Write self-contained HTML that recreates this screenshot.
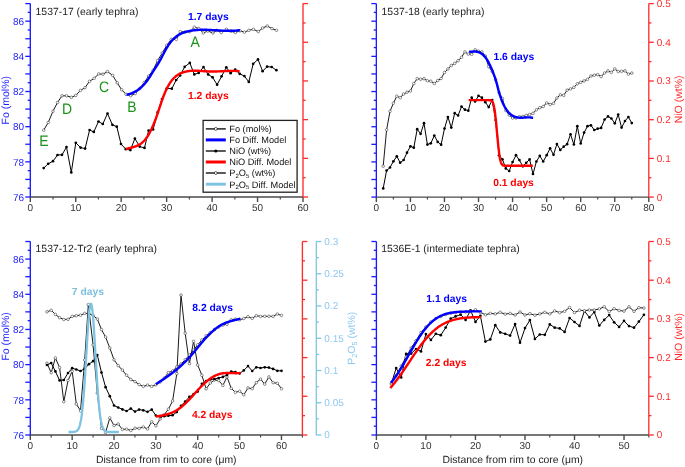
<!DOCTYPE html>
<html><head><meta charset="utf-8"><style>
html,body{margin:0;padding:0;background:#fff;}
svg{display:block;font-family:"Liberation Sans", sans-serif;will-change:transform;text-rendering:geometricPrecision;}
</style></head><body>
<svg width="685" height="467" viewBox="0 0 685 467">
<line x1="30.3" y1="197.0" x2="303.0" y2="197.0" stroke="#4a4a4a" stroke-width="1.4"/>
<line x1="30.30" y1="197.0" x2="30.30" y2="202.0" stroke="#4a4a4a" stroke-width="1.4"/>
<text transform="translate(30.30,211.0) scale(1.0,1)" text-anchor="middle" fill="#333" font-size="10">0</text>
<line x1="53.03" y1="197.0" x2="53.03" y2="199.5" stroke="#4a4a4a" stroke-width="1.2"/>
<line x1="75.75" y1="197.0" x2="75.75" y2="202.0" stroke="#4a4a4a" stroke-width="1.4"/>
<text transform="translate(75.75,211.0) scale(1.0,1)" text-anchor="middle" fill="#333" font-size="10">10</text>
<line x1="98.47" y1="197.0" x2="98.47" y2="199.5" stroke="#4a4a4a" stroke-width="1.2"/>
<line x1="121.20" y1="197.0" x2="121.20" y2="202.0" stroke="#4a4a4a" stroke-width="1.4"/>
<text transform="translate(121.20,211.0) scale(1.0,1)" text-anchor="middle" fill="#333" font-size="10">20</text>
<line x1="143.93" y1="197.0" x2="143.93" y2="199.5" stroke="#4a4a4a" stroke-width="1.2"/>
<line x1="166.65" y1="197.0" x2="166.65" y2="202.0" stroke="#4a4a4a" stroke-width="1.4"/>
<text transform="translate(166.65,211.0) scale(1.0,1)" text-anchor="middle" fill="#333" font-size="10">30</text>
<line x1="189.38" y1="197.0" x2="189.38" y2="199.5" stroke="#4a4a4a" stroke-width="1.2"/>
<line x1="212.10" y1="197.0" x2="212.10" y2="202.0" stroke="#4a4a4a" stroke-width="1.4"/>
<text transform="translate(212.10,211.0) scale(1.0,1)" text-anchor="middle" fill="#333" font-size="10">40</text>
<line x1="234.83" y1="197.0" x2="234.83" y2="199.5" stroke="#4a4a4a" stroke-width="1.2"/>
<line x1="257.55" y1="197.0" x2="257.55" y2="202.0" stroke="#4a4a4a" stroke-width="1.4"/>
<text transform="translate(257.55,211.0) scale(1.0,1)" text-anchor="middle" fill="#333" font-size="10">50</text>
<line x1="280.27" y1="197.0" x2="280.27" y2="199.5" stroke="#4a4a4a" stroke-width="1.2"/>
<line x1="303.00" y1="197.0" x2="303.00" y2="202.0" stroke="#4a4a4a" stroke-width="1.4"/>
<text transform="translate(303.00,211.0) scale(1.0,1)" text-anchor="middle" fill="#333" font-size="10">60</text>
<line x1="30.3" y1="3.6" x2="30.3" y2="197.0" stroke="#1a1aff" stroke-width="1.35"/>
<line x1="30.3" y1="197.00" x2="25.3" y2="197.00" stroke="#1a1aff" stroke-width="1.3"/>
<text transform="translate(24.00,200.75) scale(1.0,1)" text-anchor="end" fill="#1a1aff" font-size="10">76</text>
<line x1="30.3" y1="188.21" x2="27.7" y2="188.21" stroke="#1a1aff" stroke-width="1.3"/>
<line x1="30.3" y1="179.42" x2="25.3" y2="179.42" stroke="#1a1aff" stroke-width="1.3"/>
<line x1="30.3" y1="170.63" x2="27.7" y2="170.63" stroke="#1a1aff" stroke-width="1.3"/>
<line x1="30.3" y1="161.84" x2="25.3" y2="161.84" stroke="#1a1aff" stroke-width="1.3"/>
<text transform="translate(24.00,165.59) scale(1.0,1)" text-anchor="end" fill="#1a1aff" font-size="10">78</text>
<line x1="30.3" y1="153.05" x2="27.7" y2="153.05" stroke="#1a1aff" stroke-width="1.3"/>
<line x1="30.3" y1="144.25" x2="25.3" y2="144.25" stroke="#1a1aff" stroke-width="1.3"/>
<line x1="30.3" y1="135.46" x2="27.7" y2="135.46" stroke="#1a1aff" stroke-width="1.3"/>
<line x1="30.3" y1="126.67" x2="25.3" y2="126.67" stroke="#1a1aff" stroke-width="1.3"/>
<text transform="translate(24.00,130.42) scale(1.0,1)" text-anchor="end" fill="#1a1aff" font-size="10">80</text>
<line x1="30.3" y1="117.88" x2="27.7" y2="117.88" stroke="#1a1aff" stroke-width="1.3"/>
<line x1="30.3" y1="109.09" x2="25.3" y2="109.09" stroke="#1a1aff" stroke-width="1.3"/>
<line x1="30.3" y1="100.30" x2="27.7" y2="100.30" stroke="#1a1aff" stroke-width="1.3"/>
<line x1="30.3" y1="91.51" x2="25.3" y2="91.51" stroke="#1a1aff" stroke-width="1.3"/>
<text transform="translate(24.00,95.26) scale(1.0,1)" text-anchor="end" fill="#1a1aff" font-size="10">82</text>
<line x1="30.3" y1="82.72" x2="27.7" y2="82.72" stroke="#1a1aff" stroke-width="1.3"/>
<line x1="30.3" y1="73.93" x2="25.3" y2="73.93" stroke="#1a1aff" stroke-width="1.3"/>
<line x1="30.3" y1="65.14" x2="27.7" y2="65.14" stroke="#1a1aff" stroke-width="1.3"/>
<line x1="30.3" y1="56.35" x2="25.3" y2="56.35" stroke="#1a1aff" stroke-width="1.3"/>
<text transform="translate(24.00,60.10) scale(1.0,1)" text-anchor="end" fill="#1a1aff" font-size="10">84</text>
<line x1="30.3" y1="47.55" x2="27.7" y2="47.55" stroke="#1a1aff" stroke-width="1.3"/>
<line x1="30.3" y1="38.76" x2="25.3" y2="38.76" stroke="#1a1aff" stroke-width="1.3"/>
<line x1="30.3" y1="29.97" x2="27.7" y2="29.97" stroke="#1a1aff" stroke-width="1.3"/>
<line x1="30.3" y1="21.18" x2="25.3" y2="21.18" stroke="#1a1aff" stroke-width="1.3"/>
<text transform="translate(24.00,24.93) scale(1.0,1)" text-anchor="end" fill="#1a1aff" font-size="10">86</text>
<line x1="30.3" y1="12.39" x2="27.7" y2="12.39" stroke="#1a1aff" stroke-width="1.3"/>
<line x1="30.3" y1="3.60" x2="25.3" y2="3.60" stroke="#1a1aff" stroke-width="1.3"/>
<line x1="303.0" y1="3.6" x2="303.0" y2="197.0" stroke="#ff2a2a" stroke-width="1.35"/>
<line x1="303.0" y1="197.00" x2="308.0" y2="197.00" stroke="#ff2a2a" stroke-width="1.3"/>
<line x1="303.0" y1="177.66" x2="305.6" y2="177.66" stroke="#ff2a2a" stroke-width="1.3"/>
<line x1="303.0" y1="158.32" x2="308.0" y2="158.32" stroke="#ff2a2a" stroke-width="1.3"/>
<line x1="303.0" y1="138.98" x2="305.6" y2="138.98" stroke="#ff2a2a" stroke-width="1.3"/>
<line x1="303.0" y1="119.64" x2="308.0" y2="119.64" stroke="#ff2a2a" stroke-width="1.3"/>
<line x1="303.0" y1="100.30" x2="305.6" y2="100.30" stroke="#ff2a2a" stroke-width="1.3"/>
<line x1="303.0" y1="80.96" x2="308.0" y2="80.96" stroke="#ff2a2a" stroke-width="1.3"/>
<line x1="303.0" y1="61.62" x2="305.6" y2="61.62" stroke="#ff2a2a" stroke-width="1.3"/>
<line x1="303.0" y1="42.28" x2="308.0" y2="42.28" stroke="#ff2a2a" stroke-width="1.3"/>
<line x1="303.0" y1="22.94" x2="305.6" y2="22.94" stroke="#ff2a2a" stroke-width="1.3"/>
<line x1="303.0" y1="3.60" x2="308.0" y2="3.60" stroke="#ff2a2a" stroke-width="1.3"/>
<line x1="376.35" y1="197.1" x2="648.8" y2="197.1" stroke="#4a4a4a" stroke-width="1.4"/>
<line x1="376.35" y1="197.1" x2="376.35" y2="202.1" stroke="#4a4a4a" stroke-width="1.4"/>
<text transform="translate(376.35,211.1) scale(1.0,1)" text-anchor="middle" fill="#333" font-size="10">0</text>
<line x1="393.38" y1="197.1" x2="393.38" y2="199.6" stroke="#4a4a4a" stroke-width="1.2"/>
<line x1="410.41" y1="197.1" x2="410.41" y2="202.1" stroke="#4a4a4a" stroke-width="1.4"/>
<text transform="translate(410.41,211.1) scale(1.0,1)" text-anchor="middle" fill="#333" font-size="10">10</text>
<line x1="427.43" y1="197.1" x2="427.43" y2="199.6" stroke="#4a4a4a" stroke-width="1.2"/>
<line x1="444.46" y1="197.1" x2="444.46" y2="202.1" stroke="#4a4a4a" stroke-width="1.4"/>
<text transform="translate(444.46,211.1) scale(1.0,1)" text-anchor="middle" fill="#333" font-size="10">20</text>
<line x1="461.49" y1="197.1" x2="461.49" y2="199.6" stroke="#4a4a4a" stroke-width="1.2"/>
<line x1="478.52" y1="197.1" x2="478.52" y2="202.1" stroke="#4a4a4a" stroke-width="1.4"/>
<text transform="translate(478.52,211.1) scale(1.0,1)" text-anchor="middle" fill="#333" font-size="10">30</text>
<line x1="495.55" y1="197.1" x2="495.55" y2="199.6" stroke="#4a4a4a" stroke-width="1.2"/>
<line x1="512.58" y1="197.1" x2="512.58" y2="202.1" stroke="#4a4a4a" stroke-width="1.4"/>
<text transform="translate(512.58,211.1) scale(1.0,1)" text-anchor="middle" fill="#333" font-size="10">40</text>
<line x1="529.60" y1="197.1" x2="529.60" y2="199.6" stroke="#4a4a4a" stroke-width="1.2"/>
<line x1="546.63" y1="197.1" x2="546.63" y2="202.1" stroke="#4a4a4a" stroke-width="1.4"/>
<text transform="translate(546.63,211.1) scale(1.0,1)" text-anchor="middle" fill="#333" font-size="10">50</text>
<line x1="563.66" y1="197.1" x2="563.66" y2="199.6" stroke="#4a4a4a" stroke-width="1.2"/>
<line x1="580.69" y1="197.1" x2="580.69" y2="202.1" stroke="#4a4a4a" stroke-width="1.4"/>
<text transform="translate(580.69,211.1) scale(1.0,1)" text-anchor="middle" fill="#333" font-size="10">60</text>
<line x1="597.72" y1="197.1" x2="597.72" y2="199.6" stroke="#4a4a4a" stroke-width="1.2"/>
<line x1="614.74" y1="197.1" x2="614.74" y2="202.1" stroke="#4a4a4a" stroke-width="1.4"/>
<text transform="translate(614.74,211.1) scale(1.0,1)" text-anchor="middle" fill="#333" font-size="10">70</text>
<line x1="631.77" y1="197.1" x2="631.77" y2="199.6" stroke="#4a4a4a" stroke-width="1.2"/>
<line x1="648.80" y1="197.1" x2="648.80" y2="202.1" stroke="#4a4a4a" stroke-width="1.4"/>
<text transform="translate(648.80,211.1) scale(1.0,1)" text-anchor="middle" fill="#333" font-size="10">80</text>
<line x1="376.35" y1="3.6" x2="376.35" y2="197.1" stroke="#1a1aff" stroke-width="1.35"/>
<line x1="376.35" y1="197.10" x2="371.35" y2="197.10" stroke="#1a1aff" stroke-width="1.3"/>
<line x1="376.35" y1="188.30" x2="373.75" y2="188.30" stroke="#1a1aff" stroke-width="1.3"/>
<line x1="376.35" y1="179.51" x2="371.35" y2="179.51" stroke="#1a1aff" stroke-width="1.3"/>
<line x1="376.35" y1="170.71" x2="373.75" y2="170.71" stroke="#1a1aff" stroke-width="1.3"/>
<line x1="376.35" y1="161.92" x2="371.35" y2="161.92" stroke="#1a1aff" stroke-width="1.3"/>
<line x1="376.35" y1="153.12" x2="373.75" y2="153.12" stroke="#1a1aff" stroke-width="1.3"/>
<line x1="376.35" y1="144.33" x2="371.35" y2="144.33" stroke="#1a1aff" stroke-width="1.3"/>
<line x1="376.35" y1="135.53" x2="373.75" y2="135.53" stroke="#1a1aff" stroke-width="1.3"/>
<line x1="376.35" y1="126.74" x2="371.35" y2="126.74" stroke="#1a1aff" stroke-width="1.3"/>
<line x1="376.35" y1="117.94" x2="373.75" y2="117.94" stroke="#1a1aff" stroke-width="1.3"/>
<line x1="376.35" y1="109.15" x2="371.35" y2="109.15" stroke="#1a1aff" stroke-width="1.3"/>
<line x1="376.35" y1="100.35" x2="373.75" y2="100.35" stroke="#1a1aff" stroke-width="1.3"/>
<line x1="376.35" y1="91.55" x2="371.35" y2="91.55" stroke="#1a1aff" stroke-width="1.3"/>
<line x1="376.35" y1="82.76" x2="373.75" y2="82.76" stroke="#1a1aff" stroke-width="1.3"/>
<line x1="376.35" y1="73.96" x2="371.35" y2="73.96" stroke="#1a1aff" stroke-width="1.3"/>
<line x1="376.35" y1="65.17" x2="373.75" y2="65.17" stroke="#1a1aff" stroke-width="1.3"/>
<line x1="376.35" y1="56.37" x2="371.35" y2="56.37" stroke="#1a1aff" stroke-width="1.3"/>
<line x1="376.35" y1="47.58" x2="373.75" y2="47.58" stroke="#1a1aff" stroke-width="1.3"/>
<line x1="376.35" y1="38.78" x2="371.35" y2="38.78" stroke="#1a1aff" stroke-width="1.3"/>
<line x1="376.35" y1="29.99" x2="373.75" y2="29.99" stroke="#1a1aff" stroke-width="1.3"/>
<line x1="376.35" y1="21.19" x2="371.35" y2="21.19" stroke="#1a1aff" stroke-width="1.3"/>
<line x1="376.35" y1="12.40" x2="373.75" y2="12.40" stroke="#1a1aff" stroke-width="1.3"/>
<line x1="376.35" y1="3.60" x2="371.35" y2="3.60" stroke="#1a1aff" stroke-width="1.3"/>
<line x1="648.8" y1="3.6" x2="648.8" y2="197.1" stroke="#ff2a2a" stroke-width="1.3"/>
<line x1="648.8" y1="197.10" x2="653.8" y2="197.10" stroke="#ff2a2a" stroke-width="1.3"/>
<text transform="translate(656.80,200.55) scale(1.0,1)" text-anchor="start" fill="#ff2a2a" font-size="10">0</text>
<line x1="648.8" y1="177.75" x2="651.4" y2="177.75" stroke="#ff2a2a" stroke-width="1.3"/>
<line x1="648.8" y1="158.40" x2="653.8" y2="158.40" stroke="#ff2a2a" stroke-width="1.3"/>
<text transform="translate(656.80,161.85) scale(1.0,1)" text-anchor="start" fill="#ff2a2a" font-size="10">0.1</text>
<line x1="648.8" y1="139.05" x2="651.4" y2="139.05" stroke="#ff2a2a" stroke-width="1.3"/>
<line x1="648.8" y1="119.70" x2="653.8" y2="119.70" stroke="#ff2a2a" stroke-width="1.3"/>
<text transform="translate(656.80,123.15) scale(1.0,1)" text-anchor="start" fill="#ff2a2a" font-size="10">0.2</text>
<line x1="648.8" y1="100.35" x2="651.4" y2="100.35" stroke="#ff2a2a" stroke-width="1.3"/>
<line x1="648.8" y1="81.00" x2="653.8" y2="81.00" stroke="#ff2a2a" stroke-width="1.3"/>
<text transform="translate(656.80,84.45) scale(1.0,1)" text-anchor="start" fill="#ff2a2a" font-size="10">0.3</text>
<line x1="648.8" y1="61.65" x2="651.4" y2="61.65" stroke="#ff2a2a" stroke-width="1.3"/>
<line x1="648.8" y1="42.30" x2="653.8" y2="42.30" stroke="#ff2a2a" stroke-width="1.3"/>
<text transform="translate(656.80,45.75) scale(1.0,1)" text-anchor="start" fill="#ff2a2a" font-size="10">0.4</text>
<line x1="648.8" y1="22.95" x2="651.4" y2="22.95" stroke="#ff2a2a" stroke-width="1.3"/>
<line x1="648.8" y1="3.60" x2="653.8" y2="3.60" stroke="#ff2a2a" stroke-width="1.3"/>
<text transform="translate(656.80,7.05) scale(1.0,1)" text-anchor="start" fill="#ff2a2a" font-size="10">0.5</text>
<line x1="30.3" y1="435.0" x2="302.4" y2="435.0" stroke="#4a4a4a" stroke-width="1.4"/>
<line x1="30.30" y1="435.0" x2="30.30" y2="440.0" stroke="#4a4a4a" stroke-width="1.4"/>
<text transform="translate(30.30,449.0) scale(1.0,1)" text-anchor="middle" fill="#333" font-size="10">0</text>
<line x1="51.23" y1="435.0" x2="51.23" y2="437.5" stroke="#4a4a4a" stroke-width="1.2"/>
<line x1="72.16" y1="435.0" x2="72.16" y2="440.0" stroke="#4a4a4a" stroke-width="1.4"/>
<text transform="translate(72.16,449.0) scale(1.0,1)" text-anchor="middle" fill="#333" font-size="10">10</text>
<line x1="93.09" y1="435.0" x2="93.09" y2="437.5" stroke="#4a4a4a" stroke-width="1.2"/>
<line x1="114.02" y1="435.0" x2="114.02" y2="440.0" stroke="#4a4a4a" stroke-width="1.4"/>
<text transform="translate(114.02,449.0) scale(1.0,1)" text-anchor="middle" fill="#333" font-size="10">20</text>
<line x1="134.95" y1="435.0" x2="134.95" y2="437.5" stroke="#4a4a4a" stroke-width="1.2"/>
<line x1="155.88" y1="435.0" x2="155.88" y2="440.0" stroke="#4a4a4a" stroke-width="1.4"/>
<text transform="translate(155.88,449.0) scale(1.0,1)" text-anchor="middle" fill="#333" font-size="10">30</text>
<line x1="176.82" y1="435.0" x2="176.82" y2="437.5" stroke="#4a4a4a" stroke-width="1.2"/>
<line x1="197.75" y1="435.0" x2="197.75" y2="440.0" stroke="#4a4a4a" stroke-width="1.4"/>
<text transform="translate(197.75,449.0) scale(1.0,1)" text-anchor="middle" fill="#333" font-size="10">40</text>
<line x1="218.68" y1="435.0" x2="218.68" y2="437.5" stroke="#4a4a4a" stroke-width="1.2"/>
<line x1="239.61" y1="435.0" x2="239.61" y2="440.0" stroke="#4a4a4a" stroke-width="1.4"/>
<text transform="translate(239.61,449.0) scale(1.0,1)" text-anchor="middle" fill="#333" font-size="10">50</text>
<line x1="260.54" y1="435.0" x2="260.54" y2="437.5" stroke="#4a4a4a" stroke-width="1.2"/>
<line x1="281.47" y1="435.0" x2="281.47" y2="440.0" stroke="#4a4a4a" stroke-width="1.4"/>
<text transform="translate(281.47,449.0) scale(1.0,1)" text-anchor="middle" fill="#333" font-size="10">60</text>
<line x1="302.40" y1="435.0" x2="302.40" y2="437.5" stroke="#4a4a4a" stroke-width="1.2"/>
<line x1="30.3" y1="241.5" x2="30.3" y2="435.0" stroke="#1a1aff" stroke-width="1.35"/>
<line x1="30.3" y1="435.00" x2="25.3" y2="435.00" stroke="#1a1aff" stroke-width="1.3"/>
<text transform="translate(24.00,438.75) scale(1.0,1)" text-anchor="end" fill="#1a1aff" font-size="10">76</text>
<line x1="30.3" y1="426.20" x2="27.7" y2="426.20" stroke="#1a1aff" stroke-width="1.3"/>
<line x1="30.3" y1="417.41" x2="25.3" y2="417.41" stroke="#1a1aff" stroke-width="1.3"/>
<line x1="30.3" y1="408.61" x2="27.7" y2="408.61" stroke="#1a1aff" stroke-width="1.3"/>
<line x1="30.3" y1="399.82" x2="25.3" y2="399.82" stroke="#1a1aff" stroke-width="1.3"/>
<text transform="translate(24.00,403.57) scale(1.0,1)" text-anchor="end" fill="#1a1aff" font-size="10">78</text>
<line x1="30.3" y1="391.02" x2="27.7" y2="391.02" stroke="#1a1aff" stroke-width="1.3"/>
<line x1="30.3" y1="382.23" x2="25.3" y2="382.23" stroke="#1a1aff" stroke-width="1.3"/>
<line x1="30.3" y1="373.43" x2="27.7" y2="373.43" stroke="#1a1aff" stroke-width="1.3"/>
<line x1="30.3" y1="364.64" x2="25.3" y2="364.64" stroke="#1a1aff" stroke-width="1.3"/>
<text transform="translate(24.00,368.39) scale(1.0,1)" text-anchor="end" fill="#1a1aff" font-size="10">80</text>
<line x1="30.3" y1="355.84" x2="27.7" y2="355.84" stroke="#1a1aff" stroke-width="1.3"/>
<line x1="30.3" y1="347.05" x2="25.3" y2="347.05" stroke="#1a1aff" stroke-width="1.3"/>
<line x1="30.3" y1="338.25" x2="27.7" y2="338.25" stroke="#1a1aff" stroke-width="1.3"/>
<line x1="30.3" y1="329.45" x2="25.3" y2="329.45" stroke="#1a1aff" stroke-width="1.3"/>
<text transform="translate(24.00,333.20) scale(1.0,1)" text-anchor="end" fill="#1a1aff" font-size="10">82</text>
<line x1="30.3" y1="320.66" x2="27.7" y2="320.66" stroke="#1a1aff" stroke-width="1.3"/>
<line x1="30.3" y1="311.86" x2="25.3" y2="311.86" stroke="#1a1aff" stroke-width="1.3"/>
<line x1="30.3" y1="303.07" x2="27.7" y2="303.07" stroke="#1a1aff" stroke-width="1.3"/>
<line x1="30.3" y1="294.27" x2="25.3" y2="294.27" stroke="#1a1aff" stroke-width="1.3"/>
<text transform="translate(24.00,298.02) scale(1.0,1)" text-anchor="end" fill="#1a1aff" font-size="10">84</text>
<line x1="30.3" y1="285.48" x2="27.7" y2="285.48" stroke="#1a1aff" stroke-width="1.3"/>
<line x1="30.3" y1="276.68" x2="25.3" y2="276.68" stroke="#1a1aff" stroke-width="1.3"/>
<line x1="30.3" y1="267.89" x2="27.7" y2="267.89" stroke="#1a1aff" stroke-width="1.3"/>
<line x1="30.3" y1="259.09" x2="25.3" y2="259.09" stroke="#1a1aff" stroke-width="1.3"/>
<text transform="translate(24.00,262.84) scale(1.0,1)" text-anchor="end" fill="#1a1aff" font-size="10">86</text>
<line x1="30.3" y1="250.30" x2="27.7" y2="250.30" stroke="#1a1aff" stroke-width="1.3"/>
<line x1="30.3" y1="241.50" x2="25.3" y2="241.50" stroke="#1a1aff" stroke-width="1.3"/>
<line x1="302.4" y1="241.5" x2="302.4" y2="435.0" stroke="#ff2a2a" stroke-width="1.35"/>
<line x1="302.4" y1="435.00" x2="307.4" y2="435.00" stroke="#ff2a2a" stroke-width="1.3"/>
<line x1="302.4" y1="415.65" x2="305.0" y2="415.65" stroke="#ff2a2a" stroke-width="1.3"/>
<line x1="302.4" y1="396.30" x2="307.4" y2="396.30" stroke="#ff2a2a" stroke-width="1.3"/>
<line x1="302.4" y1="376.95" x2="305.0" y2="376.95" stroke="#ff2a2a" stroke-width="1.3"/>
<line x1="302.4" y1="357.60" x2="307.4" y2="357.60" stroke="#ff2a2a" stroke-width="1.3"/>
<line x1="302.4" y1="338.25" x2="305.0" y2="338.25" stroke="#ff2a2a" stroke-width="1.3"/>
<line x1="302.4" y1="318.90" x2="307.4" y2="318.90" stroke="#ff2a2a" stroke-width="1.3"/>
<line x1="302.4" y1="299.55" x2="305.0" y2="299.55" stroke="#ff2a2a" stroke-width="1.3"/>
<line x1="302.4" y1="280.20" x2="307.4" y2="280.20" stroke="#ff2a2a" stroke-width="1.3"/>
<line x1="302.4" y1="260.85" x2="305.0" y2="260.85" stroke="#ff2a2a" stroke-width="1.3"/>
<line x1="302.4" y1="241.50" x2="307.4" y2="241.50" stroke="#ff2a2a" stroke-width="1.3"/>
<line x1="316.3" y1="241.5" x2="316.3" y2="435.0" stroke="#7ec4e2" stroke-width="1.3"/>
<line x1="316.3" y1="435.00" x2="321.3" y2="435.00" stroke="#7ec4e2" stroke-width="1.3"/>
<text transform="translate(324.30,438.45) scale(1.0,1)" text-anchor="start" fill="#8cc8f0" font-size="10">0</text>
<line x1="316.3" y1="418.88" x2="318.90000000000003" y2="418.88" stroke="#7ec4e2" stroke-width="1.3"/>
<line x1="316.3" y1="402.75" x2="321.3" y2="402.75" stroke="#7ec4e2" stroke-width="1.3"/>
<text transform="translate(324.30,406.20) scale(1.0,1)" text-anchor="start" fill="#8cc8f0" font-size="10">0.05</text>
<line x1="316.3" y1="386.62" x2="318.90000000000003" y2="386.62" stroke="#7ec4e2" stroke-width="1.3"/>
<line x1="316.3" y1="370.50" x2="321.3" y2="370.50" stroke="#7ec4e2" stroke-width="1.3"/>
<text transform="translate(324.30,373.95) scale(1.0,1)" text-anchor="start" fill="#8cc8f0" font-size="10">0.1</text>
<line x1="316.3" y1="354.38" x2="318.90000000000003" y2="354.38" stroke="#7ec4e2" stroke-width="1.3"/>
<line x1="316.3" y1="338.25" x2="321.3" y2="338.25" stroke="#7ec4e2" stroke-width="1.3"/>
<text transform="translate(324.30,341.70) scale(1.0,1)" text-anchor="start" fill="#8cc8f0" font-size="10">0.15</text>
<line x1="316.3" y1="322.12" x2="318.90000000000003" y2="322.12" stroke="#7ec4e2" stroke-width="1.3"/>
<line x1="316.3" y1="306.00" x2="321.3" y2="306.00" stroke="#7ec4e2" stroke-width="1.3"/>
<text transform="translate(324.30,309.45) scale(1.0,1)" text-anchor="start" fill="#8cc8f0" font-size="10">0.2</text>
<line x1="316.3" y1="289.88" x2="318.90000000000003" y2="289.88" stroke="#7ec4e2" stroke-width="1.3"/>
<line x1="316.3" y1="273.75" x2="321.3" y2="273.75" stroke="#7ec4e2" stroke-width="1.3"/>
<text transform="translate(324.30,277.20) scale(1.0,1)" text-anchor="start" fill="#8cc8f0" font-size="10">0.25</text>
<line x1="316.3" y1="257.62" x2="318.90000000000003" y2="257.62" stroke="#7ec4e2" stroke-width="1.3"/>
<line x1="316.3" y1="241.50" x2="321.3" y2="241.50" stroke="#7ec4e2" stroke-width="1.3"/>
<text transform="translate(324.30,244.95) scale(1.0,1)" text-anchor="start" fill="#8cc8f0" font-size="10">0.3</text>
<line x1="376.4" y1="435.0" x2="648.8" y2="435.0" stroke="#4a4a4a" stroke-width="1.4"/>
<line x1="376.40" y1="435.0" x2="376.40" y2="440.0" stroke="#4a4a4a" stroke-width="1.4"/>
<text transform="translate(376.40,449.0) scale(1.0,1)" text-anchor="middle" fill="#333" font-size="10">0</text>
<line x1="401.16" y1="435.0" x2="401.16" y2="437.5" stroke="#4a4a4a" stroke-width="1.2"/>
<line x1="425.93" y1="435.0" x2="425.93" y2="440.0" stroke="#4a4a4a" stroke-width="1.4"/>
<text transform="translate(425.93,449.0) scale(1.0,1)" text-anchor="middle" fill="#333" font-size="10">10</text>
<line x1="450.69" y1="435.0" x2="450.69" y2="437.5" stroke="#4a4a4a" stroke-width="1.2"/>
<line x1="475.45" y1="435.0" x2="475.45" y2="440.0" stroke="#4a4a4a" stroke-width="1.4"/>
<text transform="translate(475.45,449.0) scale(1.0,1)" text-anchor="middle" fill="#333" font-size="10">20</text>
<line x1="500.22" y1="435.0" x2="500.22" y2="437.5" stroke="#4a4a4a" stroke-width="1.2"/>
<line x1="524.98" y1="435.0" x2="524.98" y2="440.0" stroke="#4a4a4a" stroke-width="1.4"/>
<text transform="translate(524.98,449.0) scale(1.0,1)" text-anchor="middle" fill="#333" font-size="10">30</text>
<line x1="549.75" y1="435.0" x2="549.75" y2="437.5" stroke="#4a4a4a" stroke-width="1.2"/>
<line x1="574.51" y1="435.0" x2="574.51" y2="440.0" stroke="#4a4a4a" stroke-width="1.4"/>
<text transform="translate(574.51,449.0) scale(1.0,1)" text-anchor="middle" fill="#333" font-size="10">40</text>
<line x1="599.27" y1="435.0" x2="599.27" y2="437.5" stroke="#4a4a4a" stroke-width="1.2"/>
<line x1="624.04" y1="435.0" x2="624.04" y2="440.0" stroke="#4a4a4a" stroke-width="1.4"/>
<text transform="translate(624.04,449.0) scale(1.0,1)" text-anchor="middle" fill="#333" font-size="10">50</text>
<line x1="648.80" y1="435.0" x2="648.80" y2="437.5" stroke="#4a4a4a" stroke-width="1.2"/>
<line x1="376.4" y1="241.5" x2="376.4" y2="435.0" stroke="#1a1aff" stroke-width="1.35"/>
<line x1="376.4" y1="435.00" x2="371.4" y2="435.00" stroke="#1a1aff" stroke-width="1.3"/>
<line x1="376.4" y1="426.20" x2="373.79999999999995" y2="426.20" stroke="#1a1aff" stroke-width="1.3"/>
<line x1="376.4" y1="417.41" x2="371.4" y2="417.41" stroke="#1a1aff" stroke-width="1.3"/>
<line x1="376.4" y1="408.61" x2="373.79999999999995" y2="408.61" stroke="#1a1aff" stroke-width="1.3"/>
<line x1="376.4" y1="399.82" x2="371.4" y2="399.82" stroke="#1a1aff" stroke-width="1.3"/>
<line x1="376.4" y1="391.02" x2="373.79999999999995" y2="391.02" stroke="#1a1aff" stroke-width="1.3"/>
<line x1="376.4" y1="382.23" x2="371.4" y2="382.23" stroke="#1a1aff" stroke-width="1.3"/>
<line x1="376.4" y1="373.43" x2="373.79999999999995" y2="373.43" stroke="#1a1aff" stroke-width="1.3"/>
<line x1="376.4" y1="364.64" x2="371.4" y2="364.64" stroke="#1a1aff" stroke-width="1.3"/>
<line x1="376.4" y1="355.84" x2="373.79999999999995" y2="355.84" stroke="#1a1aff" stroke-width="1.3"/>
<line x1="376.4" y1="347.05" x2="371.4" y2="347.05" stroke="#1a1aff" stroke-width="1.3"/>
<line x1="376.4" y1="338.25" x2="373.79999999999995" y2="338.25" stroke="#1a1aff" stroke-width="1.3"/>
<line x1="376.4" y1="329.45" x2="371.4" y2="329.45" stroke="#1a1aff" stroke-width="1.3"/>
<line x1="376.4" y1="320.66" x2="373.79999999999995" y2="320.66" stroke="#1a1aff" stroke-width="1.3"/>
<line x1="376.4" y1="311.86" x2="371.4" y2="311.86" stroke="#1a1aff" stroke-width="1.3"/>
<line x1="376.4" y1="303.07" x2="373.79999999999995" y2="303.07" stroke="#1a1aff" stroke-width="1.3"/>
<line x1="376.4" y1="294.27" x2="371.4" y2="294.27" stroke="#1a1aff" stroke-width="1.3"/>
<line x1="376.4" y1="285.48" x2="373.79999999999995" y2="285.48" stroke="#1a1aff" stroke-width="1.3"/>
<line x1="376.4" y1="276.68" x2="371.4" y2="276.68" stroke="#1a1aff" stroke-width="1.3"/>
<line x1="376.4" y1="267.89" x2="373.79999999999995" y2="267.89" stroke="#1a1aff" stroke-width="1.3"/>
<line x1="376.4" y1="259.09" x2="371.4" y2="259.09" stroke="#1a1aff" stroke-width="1.3"/>
<line x1="376.4" y1="250.30" x2="373.79999999999995" y2="250.30" stroke="#1a1aff" stroke-width="1.3"/>
<line x1="376.4" y1="241.50" x2="371.4" y2="241.50" stroke="#1a1aff" stroke-width="1.3"/>
<line x1="648.8" y1="241.5" x2="648.8" y2="435.0" stroke="#ff2a2a" stroke-width="1.3"/>
<line x1="648.8" y1="435.00" x2="653.8" y2="435.00" stroke="#ff2a2a" stroke-width="1.3"/>
<text transform="translate(656.80,438.45) scale(1.0,1)" text-anchor="start" fill="#ff2a2a" font-size="10">0</text>
<line x1="648.8" y1="415.65" x2="651.4" y2="415.65" stroke="#ff2a2a" stroke-width="1.3"/>
<line x1="648.8" y1="396.30" x2="653.8" y2="396.30" stroke="#ff2a2a" stroke-width="1.3"/>
<text transform="translate(656.80,399.75) scale(1.0,1)" text-anchor="start" fill="#ff2a2a" font-size="10">0.1</text>
<line x1="648.8" y1="376.95" x2="651.4" y2="376.95" stroke="#ff2a2a" stroke-width="1.3"/>
<line x1="648.8" y1="357.60" x2="653.8" y2="357.60" stroke="#ff2a2a" stroke-width="1.3"/>
<text transform="translate(656.80,361.05) scale(1.0,1)" text-anchor="start" fill="#ff2a2a" font-size="10">0.2</text>
<line x1="648.8" y1="338.25" x2="651.4" y2="338.25" stroke="#ff2a2a" stroke-width="1.3"/>
<line x1="648.8" y1="318.90" x2="653.8" y2="318.90" stroke="#ff2a2a" stroke-width="1.3"/>
<text transform="translate(656.80,322.35) scale(1.0,1)" text-anchor="start" fill="#ff2a2a" font-size="10">0.3</text>
<line x1="648.8" y1="299.55" x2="651.4" y2="299.55" stroke="#ff2a2a" stroke-width="1.3"/>
<line x1="648.8" y1="280.20" x2="653.8" y2="280.20" stroke="#ff2a2a" stroke-width="1.3"/>
<text transform="translate(656.80,283.65) scale(1.0,1)" text-anchor="start" fill="#ff2a2a" font-size="10">0.4</text>
<line x1="648.8" y1="260.85" x2="651.4" y2="260.85" stroke="#ff2a2a" stroke-width="1.3"/>
<line x1="648.8" y1="241.50" x2="653.8" y2="241.50" stroke="#ff2a2a" stroke-width="1.3"/>
<text transform="translate(656.80,244.95) scale(1.0,1)" text-anchor="start" fill="#ff2a2a" font-size="10">0.5</text>
<text x="35.6" y="15.4" fill="#222" font-size="10.4">1537-17 (early tephra)</text>
<text x="381.6" y="15.4" fill="#222" font-size="10.4">1537-18 (early tephra)</text>
<text x="35.6" y="251.5" fill="#222" font-size="10.4">1537-12-Tr2 (early tephra)</text>
<text x="381.2" y="251.5" fill="#222" font-size="10.4">1536E-1 (intermediate tephra)</text>
<text transform="translate(8.8,100.2) rotate(-90)" text-anchor="middle" fill="#1a1aff" font-size="10.5">Fo (mol%)</text>
<text transform="translate(8.6,336.4) rotate(-90)" text-anchor="middle" fill="#1a1aff" font-size="10.5">Fo (mol%)</text>
<text transform="translate(682.2,99.4) rotate(-90)" text-anchor="middle" fill="#ff2a2a" font-size="10.5">NiO (wt%)</text>
<text transform="translate(682.2,336.9) rotate(-90)" text-anchor="middle" fill="#ff2a2a" font-size="10.5">NiO (wt%)</text>
<text transform="translate(355.3,338.3) rotate(-90)" text-anchor="middle" fill="#8cc8f0" font-size="10.5">P<tspan font-size="7.3" dy="2">2</tspan><tspan dy="-2">O</tspan><tspan font-size="7.3" dy="2">5</tspan><tspan dy="-2"> (wt%)</tspan></text>
<text x="166.3" y="462.8" text-anchor="middle" fill="#222" font-size="10.4">Distance from rim to core (μm)</text>
<text x="512.8" y="462.8" text-anchor="middle" fill="#222" font-size="10.4">Distance from rim to core (μm)</text>
<polyline points="43.7,168.1 48.2,163.8 53.0,161.2 57.5,155.0 62.0,154.8 66.5,147.1 71.3,172.4 75.8,142.8 80.6,147.6 85.1,148.6 89.6,130.0 93.8,131.9 98.5,121.5 102.8,124.0 107.5,113.5 112.4,124.8 116.8,126.7 121.0,144.0 125.8,149.2 130.4,150.1 134.9,138.5 139.7,146.6 144.5,147.9 148.6,130.5 153.1,129.5 157.7,112.2 162.0,99.0 166.8,88.3 171.8,88.7 176.2,80.0 180.1,75.5 184.7,66.8 189.8,62.9 194.3,74.4 198.7,72.9 203.5,67.1 208.1,74.4 212.6,77.3 217.1,84.7 221.6,76.3 226.3,67.3 230.6,73.2 235.2,69.6 239.7,73.8 244.4,76.1 248.8,81.9 253.2,63.8 258.0,59.4 262.6,71.2 267.1,66.7 271.7,67.0 276.4,70.2" fill="none" stroke="#000" stroke-width="1.0" stroke-linejoin="round"/>
<circle cx="43.7" cy="168.1" r="1.35" fill="#000"/>
<circle cx="48.2" cy="163.8" r="1.35" fill="#000"/>
<circle cx="53.0" cy="161.2" r="1.35" fill="#000"/>
<circle cx="57.5" cy="155.0" r="1.35" fill="#000"/>
<circle cx="62.0" cy="154.8" r="1.35" fill="#000"/>
<circle cx="66.5" cy="147.1" r="1.35" fill="#000"/>
<circle cx="71.3" cy="172.4" r="1.35" fill="#000"/>
<circle cx="75.8" cy="142.8" r="1.35" fill="#000"/>
<circle cx="80.6" cy="147.6" r="1.35" fill="#000"/>
<circle cx="85.1" cy="148.6" r="1.35" fill="#000"/>
<circle cx="89.6" cy="130.0" r="1.35" fill="#000"/>
<circle cx="93.8" cy="131.9" r="1.35" fill="#000"/>
<circle cx="98.5" cy="121.5" r="1.35" fill="#000"/>
<circle cx="102.8" cy="124.0" r="1.35" fill="#000"/>
<circle cx="107.5" cy="113.5" r="1.35" fill="#000"/>
<circle cx="112.4" cy="124.8" r="1.35" fill="#000"/>
<circle cx="116.8" cy="126.7" r="1.35" fill="#000"/>
<circle cx="121.0" cy="144.0" r="1.35" fill="#000"/>
<circle cx="125.8" cy="149.2" r="1.35" fill="#000"/>
<circle cx="130.4" cy="150.1" r="1.35" fill="#000"/>
<circle cx="134.9" cy="138.5" r="1.35" fill="#000"/>
<circle cx="139.7" cy="146.6" r="1.35" fill="#000"/>
<circle cx="144.5" cy="147.9" r="1.35" fill="#000"/>
<circle cx="148.6" cy="130.5" r="1.35" fill="#000"/>
<circle cx="153.1" cy="129.5" r="1.35" fill="#000"/>
<circle cx="157.7" cy="112.2" r="1.35" fill="#000"/>
<circle cx="162.0" cy="99.0" r="1.35" fill="#000"/>
<circle cx="166.8" cy="88.3" r="1.35" fill="#000"/>
<circle cx="171.8" cy="88.7" r="1.35" fill="#000"/>
<circle cx="176.2" cy="80.0" r="1.35" fill="#000"/>
<circle cx="180.1" cy="75.5" r="1.35" fill="#000"/>
<circle cx="184.7" cy="66.8" r="1.35" fill="#000"/>
<circle cx="189.8" cy="62.9" r="1.35" fill="#000"/>
<circle cx="194.3" cy="74.4" r="1.35" fill="#000"/>
<circle cx="198.7" cy="72.9" r="1.35" fill="#000"/>
<circle cx="203.5" cy="67.1" r="1.35" fill="#000"/>
<circle cx="208.1" cy="74.4" r="1.35" fill="#000"/>
<circle cx="212.6" cy="77.3" r="1.35" fill="#000"/>
<circle cx="217.1" cy="84.7" r="1.35" fill="#000"/>
<circle cx="221.6" cy="76.3" r="1.35" fill="#000"/>
<circle cx="226.3" cy="67.3" r="1.35" fill="#000"/>
<circle cx="230.6" cy="73.2" r="1.35" fill="#000"/>
<circle cx="235.2" cy="69.6" r="1.35" fill="#000"/>
<circle cx="239.7" cy="73.8" r="1.35" fill="#000"/>
<circle cx="244.4" cy="76.1" r="1.35" fill="#000"/>
<circle cx="248.8" cy="81.9" r="1.35" fill="#000"/>
<circle cx="253.2" cy="63.8" r="1.35" fill="#000"/>
<circle cx="258.0" cy="59.4" r="1.35" fill="#000"/>
<circle cx="262.6" cy="71.2" r="1.35" fill="#000"/>
<circle cx="267.1" cy="66.7" r="1.35" fill="#000"/>
<circle cx="271.7" cy="67.0" r="1.35" fill="#000"/>
<circle cx="276.4" cy="70.2" r="1.35" fill="#000"/>
<polyline points="125.9,149.1 126.4,148.9 126.9,148.8 127.4,148.6 127.9,148.5 128.4,148.3 128.9,148.2 129.4,148.1 129.9,148.0 130.4,147.8 130.9,147.7 131.4,147.6 131.9,147.5 132.4,147.3 132.9,147.2 133.4,147.1 133.9,146.9 134.4,146.8 134.9,146.6 135.4,146.4 135.9,146.3 136.4,146.1 136.9,145.9 137.4,145.6 137.9,145.4 138.4,145.2 138.9,144.9 139.4,144.6 139.9,144.3 140.4,144.0 140.9,143.6 141.4,143.3 141.9,142.9 142.4,142.4 142.9,142.0 143.4,141.5 143.9,141.0 144.4,140.5 144.9,139.9 145.4,139.3 145.9,138.7 146.4,138.0 146.9,137.3 147.4,136.6 147.9,135.8 148.4,135.0 148.9,134.1 149.4,133.2 149.9,132.3 150.4,131.3 150.9,130.3 151.4,129.3 151.9,128.2 152.4,127.1 152.9,125.9 153.4,124.8 153.9,123.5 154.4,122.3 154.9,121.0 155.4,119.7 155.9,118.4 156.4,117.0 156.9,115.6 157.4,114.2 157.9,112.7 158.4,111.2 158.9,109.7 159.4,108.2 159.9,106.7 160.4,105.2 160.9,103.7 161.4,102.2 161.9,100.7 162.4,99.3 162.9,97.9 163.4,96.5 163.9,95.2 164.4,94.0 164.9,92.8 165.4,91.6 165.9,90.5 166.4,89.4 166.9,88.4 167.4,87.4 167.9,86.5 168.4,85.6 168.9,84.7 169.4,83.9 169.9,83.1 170.4,82.3 170.9,81.6 171.4,81.0 171.9,80.3 172.4,79.7 172.9,79.1 173.4,78.6 173.9,78.0 174.4,77.5 174.9,77.1 175.4,76.6 175.9,76.2 176.4,75.8 176.9,75.5 177.4,75.1 177.9,74.8 178.4,74.5 178.9,74.2 179.4,73.9 179.9,73.7 180.4,73.4 180.9,73.2 181.4,73.0 181.9,72.8 182.4,72.6 182.9,72.4 183.4,72.3 183.9,72.1 184.4,72.0 184.9,71.8 185.4,71.7 185.9,71.6 186.4,71.5 186.9,71.4 187.4,71.3 187.9,71.2 188.4,71.1 188.9,71.1 189.4,71.0 189.9,70.9 190.4,70.9 190.9,70.9 191.4,70.8 191.9,70.8 192.4,70.8 192.9,70.7 193.4,70.7 193.9,70.7 194.4,70.7 194.9,70.7 195.4,70.7 195.9,70.7 196.4,70.7 196.9,70.7 197.4,70.8 197.9,70.8 198.4,70.8 198.9,70.8 199.4,70.9 199.9,70.9 200.4,70.9 200.9,71.0 201.4,71.0 201.9,71.0 202.4,71.1 202.9,71.1 203.4,71.1 203.9,71.2 204.4,71.2 204.9,71.2 205.4,71.3 205.9,71.3 206.4,71.3 206.9,71.4 207.4,71.4 207.9,71.4 208.4,71.4 208.9,71.5 209.4,71.5 209.9,71.5 210.4,71.5 210.9,71.5 211.4,71.5 211.9,71.5 212.4,71.5 212.9,71.5 213.4,71.5 213.9,71.5 214.4,71.5 214.9,71.5 215.4,71.5 215.9,71.5 216.4,71.5 216.9,71.5 217.4,71.4 217.9,71.4 218.4,71.4 218.9,71.4 219.4,71.4 219.9,71.3 220.4,71.3 220.9,71.3 221.4,71.3 221.9,71.2 222.4,71.2 222.9,71.2 223.4,71.2 223.9,71.1 224.4,71.1 224.9,71.1 225.4,71.1 225.9,71.0 226.4,71.0 226.9,71.0 227.4,71.0 227.9,71.0 228.4,71.0 228.9,70.9 229.4,70.9 229.9,70.9 230.4,70.9 230.9,70.9 231.4,70.9 231.9,70.9 232.4,70.9 232.9,70.9 233.4,70.9 233.9,70.9 234.4,70.9 234.9,70.9 235.4,70.9 235.9,71.0 236.4,71.0 236.9,71.0 237.4,71.0 237.9,71.1 238.4,71.1 238.9,71.1 239.4,71.2 239.6,71.2" fill="none" stroke="#ff0000" stroke-width="2.4" stroke-linejoin="round" stroke-linecap="butt"/>
<polyline points="43.7,130.2 48.2,122.5 53.0,111.2 57.5,102.5 62.0,95.8 66.5,95.8 71.3,97.3 75.8,95.4 80.5,90.4 85.0,87.7 89.5,81.3 94.2,78.3 98.7,73.9 103.0,74.2 107.5,71.6 112.7,75.4 117.2,82.8 121.7,89.8 126.2,94.4 130.7,95.7 135.2,93.6 139.7,88.5 144.2,82.5 148.7,76.0 153.1,70.3 157.6,60.6 162.2,53.1 166.7,45.4 171.2,39.4 176.3,39.4 180.2,31.7 185.0,32.0 189.8,31.7 194.3,27.2 198.8,28.5 203.3,33.0 207.8,31.0 212.9,33.0 216.8,30.4 221.3,32.5 226.4,29.3 230.9,31.2 235.4,32.5 239.9,30.8 244.4,32.1 248.9,30.3 253.4,29.3 258.3,31.6 262.7,28.0 267.2,26.0 272.0,28.6 276.5,30.3" fill="none" stroke="#000" stroke-width="0.9" stroke-linejoin="round"/>
<circle cx="43.7" cy="130.2" r="1.3" fill="#fff" stroke="#333" stroke-width="0.55"/>
<circle cx="48.2" cy="122.5" r="1.3" fill="#fff" stroke="#333" stroke-width="0.55"/>
<circle cx="53.0" cy="111.2" r="1.3" fill="#fff" stroke="#333" stroke-width="0.55"/>
<circle cx="57.5" cy="102.5" r="1.3" fill="#fff" stroke="#333" stroke-width="0.55"/>
<circle cx="62.0" cy="95.8" r="1.3" fill="#fff" stroke="#333" stroke-width="0.55"/>
<circle cx="66.5" cy="95.8" r="1.3" fill="#fff" stroke="#333" stroke-width="0.55"/>
<circle cx="71.3" cy="97.3" r="1.3" fill="#fff" stroke="#333" stroke-width="0.55"/>
<circle cx="75.8" cy="95.4" r="1.3" fill="#fff" stroke="#333" stroke-width="0.55"/>
<circle cx="80.5" cy="90.4" r="1.3" fill="#fff" stroke="#333" stroke-width="0.55"/>
<circle cx="85.0" cy="87.7" r="1.3" fill="#fff" stroke="#333" stroke-width="0.55"/>
<circle cx="89.5" cy="81.3" r="1.3" fill="#fff" stroke="#333" stroke-width="0.55"/>
<circle cx="94.2" cy="78.3" r="1.3" fill="#fff" stroke="#333" stroke-width="0.55"/>
<circle cx="98.7" cy="73.9" r="1.3" fill="#fff" stroke="#333" stroke-width="0.55"/>
<circle cx="103.0" cy="74.2" r="1.3" fill="#fff" stroke="#333" stroke-width="0.55"/>
<circle cx="107.5" cy="71.6" r="1.3" fill="#fff" stroke="#333" stroke-width="0.55"/>
<circle cx="112.7" cy="75.4" r="1.3" fill="#fff" stroke="#333" stroke-width="0.55"/>
<circle cx="117.2" cy="82.8" r="1.3" fill="#fff" stroke="#333" stroke-width="0.55"/>
<circle cx="121.7" cy="89.8" r="1.3" fill="#fff" stroke="#333" stroke-width="0.55"/>
<circle cx="126.2" cy="94.4" r="1.3" fill="#fff" stroke="#333" stroke-width="0.55"/>
<circle cx="130.7" cy="95.7" r="1.3" fill="#fff" stroke="#333" stroke-width="0.55"/>
<circle cx="135.2" cy="93.6" r="1.3" fill="#fff" stroke="#333" stroke-width="0.55"/>
<circle cx="139.7" cy="88.5" r="1.3" fill="#fff" stroke="#333" stroke-width="0.55"/>
<circle cx="144.2" cy="82.5" r="1.3" fill="#fff" stroke="#333" stroke-width="0.55"/>
<circle cx="148.7" cy="76.0" r="1.3" fill="#fff" stroke="#333" stroke-width="0.55"/>
<circle cx="153.1" cy="70.3" r="1.3" fill="#fff" stroke="#333" stroke-width="0.55"/>
<circle cx="157.6" cy="60.6" r="1.3" fill="#fff" stroke="#333" stroke-width="0.55"/>
<circle cx="162.2" cy="53.1" r="1.3" fill="#fff" stroke="#333" stroke-width="0.55"/>
<circle cx="166.7" cy="45.4" r="1.3" fill="#fff" stroke="#333" stroke-width="0.55"/>
<circle cx="171.2" cy="39.4" r="1.3" fill="#fff" stroke="#333" stroke-width="0.55"/>
<circle cx="176.3" cy="39.4" r="1.3" fill="#fff" stroke="#333" stroke-width="0.55"/>
<circle cx="180.2" cy="31.7" r="1.3" fill="#fff" stroke="#333" stroke-width="0.55"/>
<circle cx="185.0" cy="32.0" r="1.3" fill="#fff" stroke="#333" stroke-width="0.55"/>
<circle cx="189.8" cy="31.7" r="1.3" fill="#fff" stroke="#333" stroke-width="0.55"/>
<circle cx="194.3" cy="27.2" r="1.3" fill="#fff" stroke="#333" stroke-width="0.55"/>
<circle cx="198.8" cy="28.5" r="1.3" fill="#fff" stroke="#333" stroke-width="0.55"/>
<circle cx="203.3" cy="33.0" r="1.3" fill="#fff" stroke="#333" stroke-width="0.55"/>
<circle cx="207.8" cy="31.0" r="1.3" fill="#fff" stroke="#333" stroke-width="0.55"/>
<circle cx="212.9" cy="33.0" r="1.3" fill="#fff" stroke="#333" stroke-width="0.55"/>
<circle cx="216.8" cy="30.4" r="1.3" fill="#fff" stroke="#333" stroke-width="0.55"/>
<circle cx="221.3" cy="32.5" r="1.3" fill="#fff" stroke="#333" stroke-width="0.55"/>
<circle cx="226.4" cy="29.3" r="1.3" fill="#fff" stroke="#333" stroke-width="0.55"/>
<circle cx="230.9" cy="31.2" r="1.3" fill="#fff" stroke="#333" stroke-width="0.55"/>
<circle cx="235.4" cy="32.5" r="1.3" fill="#fff" stroke="#333" stroke-width="0.55"/>
<circle cx="239.9" cy="30.8" r="1.3" fill="#fff" stroke="#333" stroke-width="0.55"/>
<circle cx="244.4" cy="32.1" r="1.3" fill="#fff" stroke="#333" stroke-width="0.55"/>
<circle cx="248.9" cy="30.3" r="1.3" fill="#fff" stroke="#333" stroke-width="0.55"/>
<circle cx="253.4" cy="29.3" r="1.3" fill="#fff" stroke="#333" stroke-width="0.55"/>
<circle cx="258.3" cy="31.6" r="1.3" fill="#fff" stroke="#333" stroke-width="0.55"/>
<circle cx="262.7" cy="28.0" r="1.3" fill="#fff" stroke="#333" stroke-width="0.55"/>
<circle cx="267.2" cy="26.0" r="1.3" fill="#fff" stroke="#333" stroke-width="0.55"/>
<circle cx="272.0" cy="28.6" r="1.3" fill="#fff" stroke="#333" stroke-width="0.55"/>
<circle cx="276.5" cy="30.3" r="1.3" fill="#fff" stroke="#333" stroke-width="0.55"/>
<polyline points="126.6,94.8 127.1,94.7 127.6,94.5 128.1,94.4 128.6,94.3 129.1,94.1 129.6,94.0 130.1,93.8 130.6,93.6 131.1,93.5 131.6,93.3 132.1,93.1 132.6,92.9 133.1,92.6 133.6,92.4 134.1,92.2 134.6,91.9 135.1,91.7 135.6,91.4 136.1,91.1 136.6,90.8 137.1,90.5 137.6,90.1 138.1,89.8 138.6,89.4 139.1,89.1 139.6,88.7 140.1,88.3 140.6,87.8 141.1,87.4 141.6,86.9 142.1,86.5 142.6,86.0 143.1,85.5 143.6,84.9 144.1,84.4 144.6,83.8 145.1,83.2 145.6,82.6 146.1,82.0 146.6,81.4 147.1,80.7 147.6,80.0 148.1,79.3 148.6,78.6 149.1,77.8 149.6,77.0 150.1,76.3 150.6,75.5 151.1,74.7 151.6,73.9 152.1,73.0 152.6,72.2 153.1,71.4 153.6,70.6 154.1,69.8 154.6,69.0 155.1,68.3 155.6,67.5 156.1,66.8 156.6,66.0 157.1,65.2 157.6,64.5 158.1,63.7 158.6,62.8 159.1,62.0 159.6,61.1 160.1,60.2 160.6,59.3 161.1,58.4 161.6,57.4 162.1,56.4 162.6,55.5 163.1,54.5 163.6,53.6 164.1,52.6 164.6,51.7 165.1,50.8 165.6,49.8 166.1,49.0 166.6,48.1 167.1,47.3 167.6,46.5 168.1,45.7 168.6,44.9 169.1,44.2 169.6,43.5 170.1,42.9 170.6,42.2 171.1,41.6 171.6,41.0 172.1,40.4 172.6,39.9 173.1,39.4 173.6,38.9 174.1,38.4 174.6,37.9 175.1,37.5 175.6,37.1 176.1,36.7 176.6,36.3 177.1,35.9 177.6,35.6 178.1,35.2 178.6,34.9 179.1,34.6 179.6,34.4 180.1,34.1 180.6,33.8 181.1,33.6 181.6,33.4 182.1,33.1 182.6,32.9 183.1,32.7 183.6,32.6 184.1,32.4 184.6,32.2 185.1,32.1 185.6,31.9 186.1,31.8 186.6,31.7 187.1,31.5 187.6,31.4 188.1,31.3 188.6,31.2 189.1,31.1 189.6,31.0 190.1,30.9 190.6,30.8 191.1,30.7 191.6,30.6 192.1,30.6 192.6,30.5 193.1,30.4 193.6,30.4 194.1,30.3 194.6,30.2 195.1,30.2 195.6,30.1 196.1,30.1 196.6,30.1 197.1,30.0 197.6,30.0 198.1,30.0 198.6,29.9 199.1,29.9 199.6,29.9 200.1,29.9 200.6,29.8 201.1,29.8 201.6,29.8 202.1,29.8 202.6,29.8 203.1,29.8 203.6,29.8 204.1,29.8 204.6,29.8 205.1,29.8 205.6,29.8 206.1,29.8 206.6,29.8 207.1,29.9 207.6,29.9 208.1,29.9 208.6,29.9 209.1,29.9 209.6,29.9 210.1,30.0 210.6,30.0 211.1,30.0 211.6,30.0 212.1,30.1 212.6,30.1 213.1,30.1 213.6,30.1 214.1,30.2 214.6,30.2 215.1,30.2 215.6,30.3 216.1,30.3 216.6,30.3 217.1,30.3 217.6,30.4 218.1,30.4 218.6,30.4 219.1,30.5 219.6,30.5 220.1,30.5 220.6,30.5 221.1,30.6 221.6,30.6 222.1,30.6 222.6,30.6 223.1,30.7 223.6,30.7 224.1,30.7 224.6,30.7 225.1,30.7 225.6,30.8 226.1,30.8 226.6,30.8 227.1,30.8 227.6,30.8 228.1,30.8 228.6,30.8 229.1,30.8 229.6,30.8 230.1,30.8 230.6,30.8 231.1,30.8 231.6,30.8 232.1,30.8 232.6,30.8 233.1,30.7 233.6,30.7 234.1,30.7 234.6,30.7 235.1,30.6 235.6,30.6 236.1,30.6 236.6,30.5 237.1,30.5 237.6,30.4 238.1,30.4 238.6,30.3 239.1,30.3 239.6,30.2 239.9,30.2" fill="none" stroke="#0000ff" stroke-width="2.4" stroke-linejoin="round" stroke-linecap="butt"/>
<text x="188.0" y="20" fill="#0000ff" font-size="10.3" font-weight="bold" text-anchor="start">1.7 days</text>
<text x="188.0" y="98.8" fill="#ff0000" font-size="10.3" font-weight="bold" text-anchor="start">1.2 days</text>
<text transform="translate(190.40,47.00) scale(0.92,1)" fill="#1a931a" font-size="15.2">A</text>
<text transform="translate(127.20,111.50) scale(0.92,1)" fill="#1a931a" font-size="15.2">B</text>
<text transform="translate(99.10,92.40) scale(0.92,1)" fill="#1a931a" font-size="15.2">C</text>
<text transform="translate(62.10,113.60) scale(0.92,1)" fill="#1a931a" font-size="15.2">D</text>
<text transform="translate(39.20,146.00) scale(0.92,1)" fill="#1a931a" font-size="15.2">E</text>
<rect x="203.1" y="120.4" width="94.00000000000003" height="71.79999999999998" fill="#fff" stroke="#222" stroke-width="1.3"/>
<line x1="205.8" y1="128.9" x2="225.8" y2="128.9" stroke="#000" stroke-width="1.3"/>
<circle cx="215.8" cy="128.9" r="1.45" fill="#fff" stroke="#000" stroke-width="0.6"/>
<line x1="205.8" y1="139.9" x2="225.8" y2="139.9" stroke="#0000ff" stroke-width="3"/>
<line x1="205.8" y1="151.0" x2="225.8" y2="151.0" stroke="#000" stroke-width="1.3"/>
<circle cx="215.8" cy="151.0" r="1.6" fill="#000"/>
<line x1="205.8" y1="162.0" x2="225.8" y2="162.0" stroke="#ff0000" stroke-width="3"/>
<line x1="205.8" y1="173.0" x2="225.8" y2="173.0" stroke="#000" stroke-width="1.3"/>
<circle cx="215.8" cy="173.0" r="1.45" fill="#fff" stroke="#000" stroke-width="0.6"/>
<line x1="205.8" y1="184.2" x2="225.8" y2="184.2" stroke="#7ec4e2" stroke-width="3"/>
<text x="229.3" y="132.3" fill="#111" font-size="9.2">Fo (mol%)</text>
<text x="229.3" y="143.3" fill="#111" font-size="9.2">Fo Diff. Model</text>
<text x="229.3" y="154.4" fill="#111" font-size="9.2">NiO (wt%)</text>
<text x="229.3" y="165.4" fill="#111" font-size="9.2">NiO Diff. Model</text>
<text x="229.3" y="176.4" fill="#111" font-size="9.2">P<tspan font-size="6" dy="1.5">2</tspan><tspan dy="-1.5">O</tspan><tspan font-size="6" dy="1.5">5</tspan><tspan dy="-1.5"> (wt%)</tspan></text>
<text x="229.3" y="187.6" fill="#111" font-size="9.2">P<tspan font-size="6" dy="1.5">2</tspan><tspan dy="-1.5">O</tspan><tspan font-size="6" dy="1.5">5</tspan><tspan dy="-1.5"> Diff. Model</tspan></text>
<polyline points="383.2,188.4 386.6,170.5 390.0,167.5 393.4,161.3 396.8,156.3 400.2,162.7 403.6,160.0 407.0,152.7 410.4,146.3 413.8,147.7 417.2,129.2 420.6,133.8 424.0,123.2 427.4,144.6 430.8,143.3 434.3,135.6 437.7,141.9 441.1,144.7 444.5,128.5 447.9,117.0 451.3,127.6 454.7,113.2 458.1,115.5 461.5,106.6 464.9,109.7 468.3,110.7 471.7,97.7 475.1,101.5 478.5,95.8 481.9,97.7 485.3,102.2 488.7,107.1 492.2,100.1 495.6,120.0 499.0,155.3 502.4,159.3 505.8,168.4 509.2,171.0 512.6,162.0 516.0,155.2 519.4,160.1 522.8,166.3 526.2,162.8 529.6,159.4 533.0,174.0 536.4,161.5 539.8,155.9 543.2,161.5 546.7,155.2 550.1,148.3 553.5,154.8 556.9,144.0 560.3,149.9 563.7,146.7 567.1,144.2 570.5,134.3 573.9,144.5 577.3,126.2 580.7,143.5 584.1,132.6 587.5,126.2 590.9,125.3 594.3,130.0 597.7,128.7 601.1,127.9 604.6,119.5 608.0,116.4 611.4,118.5 614.8,123.3 618.2,114.5 621.6,127.6 625.0,121.0 628.4,117.0 631.8,123.1" fill="none" stroke="#000" stroke-width="1.0" stroke-linejoin="round"/>
<circle cx="383.2" cy="188.4" r="1.35" fill="#000"/>
<circle cx="386.6" cy="170.5" r="1.35" fill="#000"/>
<circle cx="390.0" cy="167.5" r="1.35" fill="#000"/>
<circle cx="393.4" cy="161.3" r="1.35" fill="#000"/>
<circle cx="396.8" cy="156.3" r="1.35" fill="#000"/>
<circle cx="400.2" cy="162.7" r="1.35" fill="#000"/>
<circle cx="403.6" cy="160.0" r="1.35" fill="#000"/>
<circle cx="407.0" cy="152.7" r="1.35" fill="#000"/>
<circle cx="410.4" cy="146.3" r="1.35" fill="#000"/>
<circle cx="413.8" cy="147.7" r="1.35" fill="#000"/>
<circle cx="417.2" cy="129.2" r="1.35" fill="#000"/>
<circle cx="420.6" cy="133.8" r="1.35" fill="#000"/>
<circle cx="424.0" cy="123.2" r="1.35" fill="#000"/>
<circle cx="427.4" cy="144.6" r="1.35" fill="#000"/>
<circle cx="430.8" cy="143.3" r="1.35" fill="#000"/>
<circle cx="434.3" cy="135.6" r="1.35" fill="#000"/>
<circle cx="437.7" cy="141.9" r="1.35" fill="#000"/>
<circle cx="441.1" cy="144.7" r="1.35" fill="#000"/>
<circle cx="444.5" cy="128.5" r="1.35" fill="#000"/>
<circle cx="447.9" cy="117.0" r="1.35" fill="#000"/>
<circle cx="451.3" cy="127.6" r="1.35" fill="#000"/>
<circle cx="454.7" cy="113.2" r="1.35" fill="#000"/>
<circle cx="458.1" cy="115.5" r="1.35" fill="#000"/>
<circle cx="461.5" cy="106.6" r="1.35" fill="#000"/>
<circle cx="464.9" cy="109.7" r="1.35" fill="#000"/>
<circle cx="468.3" cy="110.7" r="1.35" fill="#000"/>
<circle cx="471.7" cy="97.7" r="1.35" fill="#000"/>
<circle cx="475.1" cy="101.5" r="1.35" fill="#000"/>
<circle cx="478.5" cy="95.8" r="1.35" fill="#000"/>
<circle cx="481.9" cy="97.7" r="1.35" fill="#000"/>
<circle cx="485.3" cy="102.2" r="1.35" fill="#000"/>
<circle cx="488.7" cy="107.1" r="1.35" fill="#000"/>
<circle cx="492.2" cy="100.1" r="1.35" fill="#000"/>
<circle cx="495.6" cy="120.0" r="1.35" fill="#000"/>
<circle cx="499.0" cy="155.3" r="1.35" fill="#000"/>
<circle cx="502.4" cy="159.3" r="1.35" fill="#000"/>
<circle cx="505.8" cy="168.4" r="1.35" fill="#000"/>
<circle cx="509.2" cy="171.0" r="1.35" fill="#000"/>
<circle cx="512.6" cy="162.0" r="1.35" fill="#000"/>
<circle cx="516.0" cy="155.2" r="1.35" fill="#000"/>
<circle cx="519.4" cy="160.1" r="1.35" fill="#000"/>
<circle cx="522.8" cy="166.3" r="1.35" fill="#000"/>
<circle cx="526.2" cy="162.8" r="1.35" fill="#000"/>
<circle cx="529.6" cy="159.4" r="1.35" fill="#000"/>
<circle cx="533.0" cy="174.0" r="1.35" fill="#000"/>
<circle cx="536.4" cy="161.5" r="1.35" fill="#000"/>
<circle cx="539.8" cy="155.9" r="1.35" fill="#000"/>
<circle cx="543.2" cy="161.5" r="1.35" fill="#000"/>
<circle cx="546.7" cy="155.2" r="1.35" fill="#000"/>
<circle cx="550.1" cy="148.3" r="1.35" fill="#000"/>
<circle cx="553.5" cy="154.8" r="1.35" fill="#000"/>
<circle cx="556.9" cy="144.0" r="1.35" fill="#000"/>
<circle cx="560.3" cy="149.9" r="1.35" fill="#000"/>
<circle cx="563.7" cy="146.7" r="1.35" fill="#000"/>
<circle cx="567.1" cy="144.2" r="1.35" fill="#000"/>
<circle cx="570.5" cy="134.3" r="1.35" fill="#000"/>
<circle cx="573.9" cy="144.5" r="1.35" fill="#000"/>
<circle cx="577.3" cy="126.2" r="1.35" fill="#000"/>
<circle cx="580.7" cy="143.5" r="1.35" fill="#000"/>
<circle cx="584.1" cy="132.6" r="1.35" fill="#000"/>
<circle cx="587.5" cy="126.2" r="1.35" fill="#000"/>
<circle cx="590.9" cy="125.3" r="1.35" fill="#000"/>
<circle cx="594.3" cy="130.0" r="1.35" fill="#000"/>
<circle cx="597.7" cy="128.7" r="1.35" fill="#000"/>
<circle cx="601.1" cy="127.9" r="1.35" fill="#000"/>
<circle cx="604.6" cy="119.5" r="1.35" fill="#000"/>
<circle cx="608.0" cy="116.4" r="1.35" fill="#000"/>
<circle cx="611.4" cy="118.5" r="1.35" fill="#000"/>
<circle cx="614.8" cy="123.3" r="1.35" fill="#000"/>
<circle cx="618.2" cy="114.5" r="1.35" fill="#000"/>
<circle cx="621.6" cy="127.6" r="1.35" fill="#000"/>
<circle cx="625.0" cy="121.0" r="1.35" fill="#000"/>
<circle cx="628.4" cy="117.0" r="1.35" fill="#000"/>
<circle cx="631.8" cy="123.1" r="1.35" fill="#000"/>
<polyline points="468.7,100.1 469.0,100.1 469.3,100.1 469.7,100.1 470.0,100.1 470.3,100.1 470.6,100.1 471.0,100.1 471.3,100.1 471.6,100.1 471.9,100.1 472.2,100.1 472.6,100.1 472.9,100.1 473.2,100.1 473.5,100.1 473.9,100.1 474.2,100.1 474.5,100.1 474.8,100.1 475.1,100.1 475.5,100.1 475.8,100.1 476.1,100.1 476.4,100.1 476.8,100.1 477.1,100.1 477.4,100.1 477.7,100.1 478.0,100.1 478.4,100.1 478.7,100.1 479.0,100.1 479.3,100.1 479.7,100.1 480.0,100.1 480.3,100.1 480.6,100.1 480.9,100.1 481.3,100.1 481.6,100.1 481.9,100.1 482.2,100.1 482.6,100.1 482.9,100.1 483.2,100.1 483.5,100.1 483.8,100.1 484.2,100.1 484.5,100.1 484.8,100.1 485.1,100.1 485.4,100.1 485.8,100.1 486.1,100.1 486.4,100.1 486.7,100.1 487.1,100.1 487.4,100.1 487.7,100.1 488.0,100.1 488.3,100.1 488.7,100.1 489.0,100.1 489.3,100.2 489.6,100.2 490.0,100.2 490.3,100.3 490.6,100.3 490.9,100.4 491.2,100.6 491.6,100.8 491.9,101.1 492.2,101.5 492.5,102.0 492.9,102.6 493.2,103.4 493.5,104.5 493.8,105.7 494.1,107.3 494.5,109.1 494.8,111.2 495.1,113.6 495.4,116.2 495.8,119.1 496.1,122.3 496.4,125.6 496.7,129.1 497.0,132.7 497.4,136.2 497.7,139.7 498.0,143.1 498.3,146.2 498.7,149.2 499.0,151.9 499.3,154.4 499.6,156.5 499.9,158.3 500.3,159.9 500.6,161.2 500.9,162.3 501.2,163.1 501.6,163.8 501.9,164.3 502.2,164.7 502.5,165.0 502.8,165.3 503.2,165.4 503.5,165.5 503.8,165.6 504.1,165.7 504.5,165.7 504.8,165.7 505.1,165.7 505.4,165.7 505.7,165.7 506.1,165.7 506.4,165.7 506.7,165.7 507.0,165.7 507.4,165.7 507.7,165.7 508.0,165.7 508.3,165.7 508.6,165.7 509.0,165.7 509.3,165.7 509.6,165.7 509.9,165.7 510.3,165.7 510.6,165.7 510.9,165.7 511.2,165.7 511.5,165.7 511.9,165.7 512.2,165.7 512.5,165.7 512.8,165.7 513.2,165.7 513.5,165.7 513.8,165.7 514.1,165.7 514.4,165.7 514.8,165.7 515.1,165.7 515.4,165.7 515.7,165.7 516.1,165.7 516.4,165.7 516.7,165.7 517.0,165.7 517.3,165.7 517.7,165.7 518.0,165.7 518.3,165.7 518.6,165.7 518.9,165.7 519.3,165.7 519.6,165.7 519.9,165.7 520.2,165.7 520.6,165.7 520.9,165.7 521.2,165.7 521.5,165.7 521.8,165.7 522.2,165.7 522.5,165.7 522.8,165.7 523.1,165.7 523.5,165.7 523.8,165.7 524.1,165.7 524.4,165.7 524.7,165.7 525.1,165.7 525.4,165.7 525.7,165.7 526.0,165.7 526.4,165.7 526.7,165.7 527.0,165.7 527.3,165.7 527.6,165.7 528.0,165.7 528.3,165.7 528.6,165.7 528.9,165.7 529.3,165.7 529.6,165.7 529.9,165.7 530.2,165.7 530.5,165.7 530.9,165.7 531.2,165.7 531.5,165.7 531.8,165.7 532.2,165.7 532.5,165.7 532.8,165.7" fill="none" stroke="#ff0000" stroke-width="2.4" stroke-linejoin="round" stroke-linecap="butt"/>
<polyline points="383.2,166.2 386.6,129.8 390.0,111.3 393.4,103.2 396.8,96.2 400.2,97.7 403.6,94.0 407.0,92.2 410.4,91.0 413.8,83.5 417.2,78.7 420.6,79.3 424.0,78.7 427.4,80.8 430.8,81.2 434.3,83.5 437.7,80.5 441.1,78.5 444.5,72.5 447.9,69.0 451.3,65.5 454.7,63.4 458.1,60.7 461.5,57.3 464.9,51.9 468.3,54.1 471.7,54.3 475.1,49.8 478.5,51.1 481.9,51.9 485.3,56.0 488.7,66.6 492.2,71.4 495.6,79.7 499.0,92.5 502.4,98.6 505.8,110.5 509.2,115.0 512.6,118.0 516.0,118.0 519.4,116.7 522.8,116.5 526.2,115.4 529.6,114.5 533.0,113.3 536.4,109.8 539.8,107.7 543.2,106.5 546.7,102.9 550.1,104.5 553.5,103.4 556.9,98.0 560.3,94.8 563.7,95.4 567.1,90.2 570.5,88.9 573.9,87.3 577.3,83.8 580.7,82.3 584.1,80.9 587.5,79.3 590.9,76.0 594.3,75.2 597.7,74.6 601.1,76.6 604.6,73.0 608.0,70.9 611.4,72.4 614.8,68.9 618.2,71.6 621.6,71.3 625.0,70.9 628.4,74.1 631.8,73.1" fill="none" stroke="#000" stroke-width="0.9" stroke-linejoin="round"/>
<circle cx="383.2" cy="166.2" r="1.3" fill="#fff" stroke="#333" stroke-width="0.55"/>
<circle cx="386.6" cy="129.8" r="1.3" fill="#fff" stroke="#333" stroke-width="0.55"/>
<circle cx="390.0" cy="111.3" r="1.3" fill="#fff" stroke="#333" stroke-width="0.55"/>
<circle cx="393.4" cy="103.2" r="1.3" fill="#fff" stroke="#333" stroke-width="0.55"/>
<circle cx="396.8" cy="96.2" r="1.3" fill="#fff" stroke="#333" stroke-width="0.55"/>
<circle cx="400.2" cy="97.7" r="1.3" fill="#fff" stroke="#333" stroke-width="0.55"/>
<circle cx="403.6" cy="94.0" r="1.3" fill="#fff" stroke="#333" stroke-width="0.55"/>
<circle cx="407.0" cy="92.2" r="1.3" fill="#fff" stroke="#333" stroke-width="0.55"/>
<circle cx="410.4" cy="91.0" r="1.3" fill="#fff" stroke="#333" stroke-width="0.55"/>
<circle cx="413.8" cy="83.5" r="1.3" fill="#fff" stroke="#333" stroke-width="0.55"/>
<circle cx="417.2" cy="78.7" r="1.3" fill="#fff" stroke="#333" stroke-width="0.55"/>
<circle cx="420.6" cy="79.3" r="1.3" fill="#fff" stroke="#333" stroke-width="0.55"/>
<circle cx="424.0" cy="78.7" r="1.3" fill="#fff" stroke="#333" stroke-width="0.55"/>
<circle cx="427.4" cy="80.8" r="1.3" fill="#fff" stroke="#333" stroke-width="0.55"/>
<circle cx="430.8" cy="81.2" r="1.3" fill="#fff" stroke="#333" stroke-width="0.55"/>
<circle cx="434.3" cy="83.5" r="1.3" fill="#fff" stroke="#333" stroke-width="0.55"/>
<circle cx="437.7" cy="80.5" r="1.3" fill="#fff" stroke="#333" stroke-width="0.55"/>
<circle cx="441.1" cy="78.5" r="1.3" fill="#fff" stroke="#333" stroke-width="0.55"/>
<circle cx="444.5" cy="72.5" r="1.3" fill="#fff" stroke="#333" stroke-width="0.55"/>
<circle cx="447.9" cy="69.0" r="1.3" fill="#fff" stroke="#333" stroke-width="0.55"/>
<circle cx="451.3" cy="65.5" r="1.3" fill="#fff" stroke="#333" stroke-width="0.55"/>
<circle cx="454.7" cy="63.4" r="1.3" fill="#fff" stroke="#333" stroke-width="0.55"/>
<circle cx="458.1" cy="60.7" r="1.3" fill="#fff" stroke="#333" stroke-width="0.55"/>
<circle cx="461.5" cy="57.3" r="1.3" fill="#fff" stroke="#333" stroke-width="0.55"/>
<circle cx="464.9" cy="51.9" r="1.3" fill="#fff" stroke="#333" stroke-width="0.55"/>
<circle cx="468.3" cy="54.1" r="1.3" fill="#fff" stroke="#333" stroke-width="0.55"/>
<circle cx="471.7" cy="54.3" r="1.3" fill="#fff" stroke="#333" stroke-width="0.55"/>
<circle cx="475.1" cy="49.8" r="1.3" fill="#fff" stroke="#333" stroke-width="0.55"/>
<circle cx="478.5" cy="51.1" r="1.3" fill="#fff" stroke="#333" stroke-width="0.55"/>
<circle cx="481.9" cy="51.9" r="1.3" fill="#fff" stroke="#333" stroke-width="0.55"/>
<circle cx="485.3" cy="56.0" r="1.3" fill="#fff" stroke="#333" stroke-width="0.55"/>
<circle cx="488.7" cy="66.6" r="1.3" fill="#fff" stroke="#333" stroke-width="0.55"/>
<circle cx="492.2" cy="71.4" r="1.3" fill="#fff" stroke="#333" stroke-width="0.55"/>
<circle cx="495.6" cy="79.7" r="1.3" fill="#fff" stroke="#333" stroke-width="0.55"/>
<circle cx="499.0" cy="92.5" r="1.3" fill="#fff" stroke="#333" stroke-width="0.55"/>
<circle cx="502.4" cy="98.6" r="1.3" fill="#fff" stroke="#333" stroke-width="0.55"/>
<circle cx="505.8" cy="110.5" r="1.3" fill="#fff" stroke="#333" stroke-width="0.55"/>
<circle cx="509.2" cy="115.0" r="1.3" fill="#fff" stroke="#333" stroke-width="0.55"/>
<circle cx="512.6" cy="118.0" r="1.3" fill="#fff" stroke="#333" stroke-width="0.55"/>
<circle cx="516.0" cy="118.0" r="1.3" fill="#fff" stroke="#333" stroke-width="0.55"/>
<circle cx="519.4" cy="116.7" r="1.3" fill="#fff" stroke="#333" stroke-width="0.55"/>
<circle cx="522.8" cy="116.5" r="1.3" fill="#fff" stroke="#333" stroke-width="0.55"/>
<circle cx="526.2" cy="115.4" r="1.3" fill="#fff" stroke="#333" stroke-width="0.55"/>
<circle cx="529.6" cy="114.5" r="1.3" fill="#fff" stroke="#333" stroke-width="0.55"/>
<circle cx="533.0" cy="113.3" r="1.3" fill="#fff" stroke="#333" stroke-width="0.55"/>
<circle cx="536.4" cy="109.8" r="1.3" fill="#fff" stroke="#333" stroke-width="0.55"/>
<circle cx="539.8" cy="107.7" r="1.3" fill="#fff" stroke="#333" stroke-width="0.55"/>
<circle cx="543.2" cy="106.5" r="1.3" fill="#fff" stroke="#333" stroke-width="0.55"/>
<circle cx="546.7" cy="102.9" r="1.3" fill="#fff" stroke="#333" stroke-width="0.55"/>
<circle cx="550.1" cy="104.5" r="1.3" fill="#fff" stroke="#333" stroke-width="0.55"/>
<circle cx="553.5" cy="103.4" r="1.3" fill="#fff" stroke="#333" stroke-width="0.55"/>
<circle cx="556.9" cy="98.0" r="1.3" fill="#fff" stroke="#333" stroke-width="0.55"/>
<circle cx="560.3" cy="94.8" r="1.3" fill="#fff" stroke="#333" stroke-width="0.55"/>
<circle cx="563.7" cy="95.4" r="1.3" fill="#fff" stroke="#333" stroke-width="0.55"/>
<circle cx="567.1" cy="90.2" r="1.3" fill="#fff" stroke="#333" stroke-width="0.55"/>
<circle cx="570.5" cy="88.9" r="1.3" fill="#fff" stroke="#333" stroke-width="0.55"/>
<circle cx="573.9" cy="87.3" r="1.3" fill="#fff" stroke="#333" stroke-width="0.55"/>
<circle cx="577.3" cy="83.8" r="1.3" fill="#fff" stroke="#333" stroke-width="0.55"/>
<circle cx="580.7" cy="82.3" r="1.3" fill="#fff" stroke="#333" stroke-width="0.55"/>
<circle cx="584.1" cy="80.9" r="1.3" fill="#fff" stroke="#333" stroke-width="0.55"/>
<circle cx="587.5" cy="79.3" r="1.3" fill="#fff" stroke="#333" stroke-width="0.55"/>
<circle cx="590.9" cy="76.0" r="1.3" fill="#fff" stroke="#333" stroke-width="0.55"/>
<circle cx="594.3" cy="75.2" r="1.3" fill="#fff" stroke="#333" stroke-width="0.55"/>
<circle cx="597.7" cy="74.6" r="1.3" fill="#fff" stroke="#333" stroke-width="0.55"/>
<circle cx="601.1" cy="76.6" r="1.3" fill="#fff" stroke="#333" stroke-width="0.55"/>
<circle cx="604.6" cy="73.0" r="1.3" fill="#fff" stroke="#333" stroke-width="0.55"/>
<circle cx="608.0" cy="70.9" r="1.3" fill="#fff" stroke="#333" stroke-width="0.55"/>
<circle cx="611.4" cy="72.4" r="1.3" fill="#fff" stroke="#333" stroke-width="0.55"/>
<circle cx="614.8" cy="68.9" r="1.3" fill="#fff" stroke="#333" stroke-width="0.55"/>
<circle cx="618.2" cy="71.6" r="1.3" fill="#fff" stroke="#333" stroke-width="0.55"/>
<circle cx="621.6" cy="71.3" r="1.3" fill="#fff" stroke="#333" stroke-width="0.55"/>
<circle cx="625.0" cy="70.9" r="1.3" fill="#fff" stroke="#333" stroke-width="0.55"/>
<circle cx="628.4" cy="74.1" r="1.3" fill="#fff" stroke="#333" stroke-width="0.55"/>
<circle cx="631.8" cy="73.1" r="1.3" fill="#fff" stroke="#333" stroke-width="0.55"/>
<polyline points="469.0,52.0 469.5,51.9 470.0,51.8 470.5,51.8 471.0,51.7 471.5,51.7 472.0,51.6 472.5,51.6 473.0,51.5 473.5,51.5 474.0,51.5 474.5,51.5 475.0,51.5 475.5,51.6 476.0,51.6 476.5,51.7 477.0,51.8 477.5,51.9 478.0,52.0 478.5,52.2 479.0,52.3 479.5,52.5 480.0,52.8 480.5,53.0 481.0,53.3 481.5,53.6 482.0,54.0 482.5,54.4 483.0,54.8 483.5,55.3 484.0,55.8 484.5,56.3 485.0,56.9 485.5,57.5 486.0,58.2 486.5,58.9 487.0,59.7 487.5,60.5 488.0,61.3 488.5,62.2 489.0,63.2 489.5,64.2 490.0,65.2 490.5,66.3 491.0,67.4 491.5,68.5 492.0,69.7 492.5,71.0 493.0,72.3 493.5,73.6 494.0,74.9 494.5,76.3 495.0,77.7 495.5,79.2 496.0,80.8 496.5,82.6 497.0,84.4 497.5,86.4 498.0,88.4 498.5,90.3 499.0,92.1 499.5,93.8 500.0,95.4 500.5,96.9 501.0,98.4 501.5,99.7 502.0,101.0 502.5,102.3 503.0,103.4 503.5,104.5 504.0,105.5 504.5,106.5 505.0,107.4 505.5,108.2 506.0,109.0 506.5,109.8 507.0,110.5 507.5,111.1 508.0,111.7 508.5,112.3 509.0,112.8 509.5,113.3 510.0,113.8 510.5,114.2 511.0,114.6 511.5,115.0 512.0,115.3 512.5,115.7 513.0,115.9 513.5,116.2 514.0,116.4 514.5,116.6 515.0,116.8 515.5,117.0 516.0,117.1 516.5,117.3 517.0,117.4 517.5,117.5 518.0,117.5 518.5,117.6 519.0,117.6 519.5,117.7 520.0,117.7 520.5,117.7 521.0,117.7 521.5,117.7 522.0,117.7 522.5,117.7 523.0,117.6 523.5,117.6 524.0,117.6 524.5,117.6 525.0,117.5 525.5,117.5 526.0,117.5 526.5,117.4 527.0,117.4 527.5,117.4 528.0,117.4 528.5,117.4 529.0,117.4 529.5,117.4 530.0,117.4 530.5,117.5 531.0,117.5 531.5,117.6 532.0,117.7 532.5,117.8 533.0,117.9 533.1,117.9" fill="none" stroke="#0000ff" stroke-width="2.4" stroke-linejoin="round" stroke-linecap="butt"/>
<text x="493.5" y="59.6" fill="#0000ff" font-size="10.3" font-weight="bold" text-anchor="start">1.6 days</text>
<text x="493.2" y="186.4" fill="#ff0000" font-size="10.3" font-weight="bold" text-anchor="start">0.1 days</text>
<polyline points="47.0,363.3 51.2,372.7 55.4,357.9 59.6,367.6 63.8,401.7 68.0,380.5 72.2,371.3 76.3,404.0 80.5,410.8 84.7,360.0 88.3,304.7 93.1,345.0 97.3,393.2 101.5,428.4 105.6,432.5 109.8,417.9 114.0,425.5 118.2,424.0 122.4,429.4 126.6,429.2 130.8,430.5 135.0,428.2 139.1,428.4 143.3,427.0 147.5,428.9 151.7,421.8 155.9,425.8 160.1,419.1 164.3,414.7 168.4,409.2 172.6,401.0 176.8,373.7 181.0,295.1 185.2,333.2 189.4,363.7 193.6,341.3 197.7,365.0 201.9,375.3 206.1,388.8 210.3,383.0 214.5,380.0 218.7,380.6 222.9,385.4 227.0,376.9 231.2,388.3 235.4,392.3 239.6,391.2 243.8,394.8 248.0,387.9 252.2,388.7 256.3,382.6 260.5,379.1 264.7,384.1 268.9,376.9 273.1,382.6 277.3,383.3 281.5,388.7" fill="none" stroke="#000" stroke-width="0.9" stroke-linejoin="round"/>
<circle cx="47.0" cy="363.3" r="1.3" fill="#fff" stroke="#333" stroke-width="0.55"/>
<circle cx="51.2" cy="372.7" r="1.3" fill="#fff" stroke="#333" stroke-width="0.55"/>
<circle cx="55.4" cy="357.9" r="1.3" fill="#fff" stroke="#333" stroke-width="0.55"/>
<circle cx="59.6" cy="367.6" r="1.3" fill="#fff" stroke="#333" stroke-width="0.55"/>
<circle cx="63.8" cy="401.7" r="1.3" fill="#fff" stroke="#333" stroke-width="0.55"/>
<circle cx="68.0" cy="380.5" r="1.3" fill="#fff" stroke="#333" stroke-width="0.55"/>
<circle cx="72.2" cy="371.3" r="1.3" fill="#fff" stroke="#333" stroke-width="0.55"/>
<circle cx="76.3" cy="404.0" r="1.3" fill="#fff" stroke="#333" stroke-width="0.55"/>
<circle cx="80.5" cy="410.8" r="1.3" fill="#fff" stroke="#333" stroke-width="0.55"/>
<circle cx="84.7" cy="360.0" r="1.3" fill="#fff" stroke="#333" stroke-width="0.55"/>
<circle cx="88.3" cy="304.7" r="1.3" fill="#fff" stroke="#333" stroke-width="0.55"/>
<circle cx="93.1" cy="345.0" r="1.3" fill="#fff" stroke="#333" stroke-width="0.55"/>
<circle cx="97.3" cy="393.2" r="1.3" fill="#fff" stroke="#333" stroke-width="0.55"/>
<circle cx="101.5" cy="428.4" r="1.3" fill="#fff" stroke="#333" stroke-width="0.55"/>
<circle cx="105.6" cy="432.5" r="1.3" fill="#fff" stroke="#333" stroke-width="0.55"/>
<circle cx="109.8" cy="417.9" r="1.3" fill="#fff" stroke="#333" stroke-width="0.55"/>
<circle cx="114.0" cy="425.5" r="1.3" fill="#fff" stroke="#333" stroke-width="0.55"/>
<circle cx="118.2" cy="424.0" r="1.3" fill="#fff" stroke="#333" stroke-width="0.55"/>
<circle cx="122.4" cy="429.4" r="1.3" fill="#fff" stroke="#333" stroke-width="0.55"/>
<circle cx="126.6" cy="429.2" r="1.3" fill="#fff" stroke="#333" stroke-width="0.55"/>
<circle cx="130.8" cy="430.5" r="1.3" fill="#fff" stroke="#333" stroke-width="0.55"/>
<circle cx="135.0" cy="428.2" r="1.3" fill="#fff" stroke="#333" stroke-width="0.55"/>
<circle cx="139.1" cy="428.4" r="1.3" fill="#fff" stroke="#333" stroke-width="0.55"/>
<circle cx="143.3" cy="427.0" r="1.3" fill="#fff" stroke="#333" stroke-width="0.55"/>
<circle cx="147.5" cy="428.9" r="1.3" fill="#fff" stroke="#333" stroke-width="0.55"/>
<circle cx="151.7" cy="421.8" r="1.3" fill="#fff" stroke="#333" stroke-width="0.55"/>
<circle cx="155.9" cy="425.8" r="1.3" fill="#fff" stroke="#333" stroke-width="0.55"/>
<circle cx="160.1" cy="419.1" r="1.3" fill="#fff" stroke="#333" stroke-width="0.55"/>
<circle cx="164.3" cy="414.7" r="1.3" fill="#fff" stroke="#333" stroke-width="0.55"/>
<circle cx="168.4" cy="409.2" r="1.3" fill="#fff" stroke="#333" stroke-width="0.55"/>
<circle cx="172.6" cy="401.0" r="1.3" fill="#fff" stroke="#333" stroke-width="0.55"/>
<circle cx="176.8" cy="373.7" r="1.3" fill="#fff" stroke="#333" stroke-width="0.55"/>
<circle cx="181.0" cy="295.1" r="1.3" fill="#fff" stroke="#333" stroke-width="0.55"/>
<circle cx="185.2" cy="333.2" r="1.3" fill="#fff" stroke="#333" stroke-width="0.55"/>
<circle cx="189.4" cy="363.7" r="1.3" fill="#fff" stroke="#333" stroke-width="0.55"/>
<circle cx="193.6" cy="341.3" r="1.3" fill="#fff" stroke="#333" stroke-width="0.55"/>
<circle cx="197.7" cy="365.0" r="1.3" fill="#fff" stroke="#333" stroke-width="0.55"/>
<circle cx="201.9" cy="375.3" r="1.3" fill="#fff" stroke="#333" stroke-width="0.55"/>
<circle cx="206.1" cy="388.8" r="1.3" fill="#fff" stroke="#333" stroke-width="0.55"/>
<circle cx="210.3" cy="383.0" r="1.3" fill="#fff" stroke="#333" stroke-width="0.55"/>
<circle cx="214.5" cy="380.0" r="1.3" fill="#fff" stroke="#333" stroke-width="0.55"/>
<circle cx="218.7" cy="380.6" r="1.3" fill="#fff" stroke="#333" stroke-width="0.55"/>
<circle cx="222.9" cy="385.4" r="1.3" fill="#fff" stroke="#333" stroke-width="0.55"/>
<circle cx="227.0" cy="376.9" r="1.3" fill="#fff" stroke="#333" stroke-width="0.55"/>
<circle cx="231.2" cy="388.3" r="1.3" fill="#fff" stroke="#333" stroke-width="0.55"/>
<circle cx="235.4" cy="392.3" r="1.3" fill="#fff" stroke="#333" stroke-width="0.55"/>
<circle cx="239.6" cy="391.2" r="1.3" fill="#fff" stroke="#333" stroke-width="0.55"/>
<circle cx="243.8" cy="394.8" r="1.3" fill="#fff" stroke="#333" stroke-width="0.55"/>
<circle cx="248.0" cy="387.9" r="1.3" fill="#fff" stroke="#333" stroke-width="0.55"/>
<circle cx="252.2" cy="388.7" r="1.3" fill="#fff" stroke="#333" stroke-width="0.55"/>
<circle cx="256.3" cy="382.6" r="1.3" fill="#fff" stroke="#333" stroke-width="0.55"/>
<circle cx="260.5" cy="379.1" r="1.3" fill="#fff" stroke="#333" stroke-width="0.55"/>
<circle cx="264.7" cy="384.1" r="1.3" fill="#fff" stroke="#333" stroke-width="0.55"/>
<circle cx="268.9" cy="376.9" r="1.3" fill="#fff" stroke="#333" stroke-width="0.55"/>
<circle cx="273.1" cy="382.6" r="1.3" fill="#fff" stroke="#333" stroke-width="0.55"/>
<circle cx="277.3" cy="383.3" r="1.3" fill="#fff" stroke="#333" stroke-width="0.55"/>
<circle cx="281.5" cy="388.7" r="1.3" fill="#fff" stroke="#333" stroke-width="0.55"/>
<polyline points="47.0,365.0 51.2,363.0 55.4,371.4 59.6,380.4 63.8,380.0 68.0,373.0 72.2,368.2 76.3,369.5 80.5,371.0 84.7,368.7 88.9,364.2 93.1,361.2 97.3,355.0 101.5,372.5 105.6,387.2 109.8,396.2 114.0,405.5 118.2,407.5 122.4,409.4 126.6,411.0 130.8,408.6 135.0,411.6 139.1,409.6 143.3,410.3 147.5,411.8 151.7,409.6 155.9,415.5 160.1,416.4 164.3,416.2 168.4,415.7 172.6,415.2 176.8,412.1 181.0,405.8 185.2,401.5 189.4,396.9 193.6,394.0 197.7,391.6 201.9,383.8 206.1,381.0 210.3,379.5 214.5,379.0 218.7,378.0 222.9,376.9 227.0,375.0 231.2,371.6 235.4,372.0 239.6,373.5 243.8,370.4 248.0,366.1 252.2,371.0 256.3,367.3 260.5,368.0 264.7,367.3 268.9,367.6 273.1,368.9 277.3,370.8 281.5,370.8" fill="none" stroke="#000" stroke-width="1.0" stroke-linejoin="round"/>
<circle cx="47.0" cy="365.0" r="1.35" fill="#000"/>
<circle cx="51.2" cy="363.0" r="1.35" fill="#000"/>
<circle cx="55.4" cy="371.4" r="1.35" fill="#000"/>
<circle cx="59.6" cy="380.4" r="1.35" fill="#000"/>
<circle cx="63.8" cy="380.0" r="1.35" fill="#000"/>
<circle cx="68.0" cy="373.0" r="1.35" fill="#000"/>
<circle cx="72.2" cy="368.2" r="1.35" fill="#000"/>
<circle cx="76.3" cy="369.5" r="1.35" fill="#000"/>
<circle cx="80.5" cy="371.0" r="1.35" fill="#000"/>
<circle cx="84.7" cy="368.7" r="1.35" fill="#000"/>
<circle cx="88.9" cy="364.2" r="1.35" fill="#000"/>
<circle cx="93.1" cy="361.2" r="1.35" fill="#000"/>
<circle cx="97.3" cy="355.0" r="1.35" fill="#000"/>
<circle cx="101.5" cy="372.5" r="1.35" fill="#000"/>
<circle cx="105.6" cy="387.2" r="1.35" fill="#000"/>
<circle cx="109.8" cy="396.2" r="1.35" fill="#000"/>
<circle cx="114.0" cy="405.5" r="1.35" fill="#000"/>
<circle cx="118.2" cy="407.5" r="1.35" fill="#000"/>
<circle cx="122.4" cy="409.4" r="1.35" fill="#000"/>
<circle cx="126.6" cy="411.0" r="1.35" fill="#000"/>
<circle cx="130.8" cy="408.6" r="1.35" fill="#000"/>
<circle cx="135.0" cy="411.6" r="1.35" fill="#000"/>
<circle cx="139.1" cy="409.6" r="1.35" fill="#000"/>
<circle cx="143.3" cy="410.3" r="1.35" fill="#000"/>
<circle cx="147.5" cy="411.8" r="1.35" fill="#000"/>
<circle cx="151.7" cy="409.6" r="1.35" fill="#000"/>
<circle cx="155.9" cy="415.5" r="1.35" fill="#000"/>
<circle cx="160.1" cy="416.4" r="1.35" fill="#000"/>
<circle cx="164.3" cy="416.2" r="1.35" fill="#000"/>
<circle cx="168.4" cy="415.7" r="1.35" fill="#000"/>
<circle cx="172.6" cy="415.2" r="1.35" fill="#000"/>
<circle cx="176.8" cy="412.1" r="1.35" fill="#000"/>
<circle cx="181.0" cy="405.8" r="1.35" fill="#000"/>
<circle cx="185.2" cy="401.5" r="1.35" fill="#000"/>
<circle cx="189.4" cy="396.9" r="1.35" fill="#000"/>
<circle cx="193.6" cy="394.0" r="1.35" fill="#000"/>
<circle cx="197.7" cy="391.6" r="1.35" fill="#000"/>
<circle cx="201.9" cy="383.8" r="1.35" fill="#000"/>
<circle cx="206.1" cy="381.0" r="1.35" fill="#000"/>
<circle cx="210.3" cy="379.5" r="1.35" fill="#000"/>
<circle cx="214.5" cy="379.0" r="1.35" fill="#000"/>
<circle cx="218.7" cy="378.0" r="1.35" fill="#000"/>
<circle cx="222.9" cy="376.9" r="1.35" fill="#000"/>
<circle cx="227.0" cy="375.0" r="1.35" fill="#000"/>
<circle cx="231.2" cy="371.6" r="1.35" fill="#000"/>
<circle cx="235.4" cy="372.0" r="1.35" fill="#000"/>
<circle cx="239.6" cy="373.5" r="1.35" fill="#000"/>
<circle cx="243.8" cy="370.4" r="1.35" fill="#000"/>
<circle cx="248.0" cy="366.1" r="1.35" fill="#000"/>
<circle cx="252.2" cy="371.0" r="1.35" fill="#000"/>
<circle cx="256.3" cy="367.3" r="1.35" fill="#000"/>
<circle cx="260.5" cy="368.0" r="1.35" fill="#000"/>
<circle cx="264.7" cy="367.3" r="1.35" fill="#000"/>
<circle cx="268.9" cy="367.6" r="1.35" fill="#000"/>
<circle cx="273.1" cy="368.9" r="1.35" fill="#000"/>
<circle cx="277.3" cy="370.8" r="1.35" fill="#000"/>
<circle cx="281.5" cy="370.8" r="1.35" fill="#000"/>
<polyline points="47.0,311.8 51.2,310.3 55.4,314.4 59.6,317.7 63.8,319.5 68.0,319.3 72.2,316.4 76.3,315.7 80.5,315.2 84.7,313.4 88.9,313.6 93.1,315.5 97.3,319.0 101.5,329.6 105.6,337.1 109.8,348.0 114.0,359.8 118.2,365.6 122.4,370.1 126.6,375.3 130.8,379.5 135.0,381.6 139.1,384.5 143.3,386.4 147.5,385.1 151.7,386.4 155.9,384.8 160.1,382.0 164.3,378.0 168.4,372.6 172.6,371.0 176.8,367.0 181.0,364.0 185.2,359.8 189.4,355.0 193.6,350.0 197.7,344.8 201.9,340.0 206.1,335.8 210.3,332.6 214.5,329.5 218.7,327.0 222.9,325.0 227.0,324.3 231.2,319.8 235.4,319.1 239.6,319.8 243.8,318.5 248.0,316.7 252.2,318.4 256.3,315.7 260.5,316.4 264.7,316.3 268.9,316.3 273.1,316.4 277.3,314.1 281.5,315.4" fill="none" stroke="#000" stroke-width="0.9" stroke-linejoin="round"/>
<circle cx="47.0" cy="311.8" r="1.3" fill="#fff" stroke="#333" stroke-width="0.55"/>
<circle cx="51.2" cy="310.3" r="1.3" fill="#fff" stroke="#333" stroke-width="0.55"/>
<circle cx="55.4" cy="314.4" r="1.3" fill="#fff" stroke="#333" stroke-width="0.55"/>
<circle cx="59.6" cy="317.7" r="1.3" fill="#fff" stroke="#333" stroke-width="0.55"/>
<circle cx="63.8" cy="319.5" r="1.3" fill="#fff" stroke="#333" stroke-width="0.55"/>
<circle cx="68.0" cy="319.3" r="1.3" fill="#fff" stroke="#333" stroke-width="0.55"/>
<circle cx="72.2" cy="316.4" r="1.3" fill="#fff" stroke="#333" stroke-width="0.55"/>
<circle cx="76.3" cy="315.7" r="1.3" fill="#fff" stroke="#333" stroke-width="0.55"/>
<circle cx="80.5" cy="315.2" r="1.3" fill="#fff" stroke="#333" stroke-width="0.55"/>
<circle cx="84.7" cy="313.4" r="1.3" fill="#fff" stroke="#333" stroke-width="0.55"/>
<circle cx="88.9" cy="313.6" r="1.3" fill="#fff" stroke="#333" stroke-width="0.55"/>
<circle cx="93.1" cy="315.5" r="1.3" fill="#fff" stroke="#333" stroke-width="0.55"/>
<circle cx="97.3" cy="319.0" r="1.3" fill="#fff" stroke="#333" stroke-width="0.55"/>
<circle cx="101.5" cy="329.6" r="1.3" fill="#fff" stroke="#333" stroke-width="0.55"/>
<circle cx="105.6" cy="337.1" r="1.3" fill="#fff" stroke="#333" stroke-width="0.55"/>
<circle cx="109.8" cy="348.0" r="1.3" fill="#fff" stroke="#333" stroke-width="0.55"/>
<circle cx="114.0" cy="359.8" r="1.3" fill="#fff" stroke="#333" stroke-width="0.55"/>
<circle cx="118.2" cy="365.6" r="1.3" fill="#fff" stroke="#333" stroke-width="0.55"/>
<circle cx="122.4" cy="370.1" r="1.3" fill="#fff" stroke="#333" stroke-width="0.55"/>
<circle cx="126.6" cy="375.3" r="1.3" fill="#fff" stroke="#333" stroke-width="0.55"/>
<circle cx="130.8" cy="379.5" r="1.3" fill="#fff" stroke="#333" stroke-width="0.55"/>
<circle cx="135.0" cy="381.6" r="1.3" fill="#fff" stroke="#333" stroke-width="0.55"/>
<circle cx="139.1" cy="384.5" r="1.3" fill="#fff" stroke="#333" stroke-width="0.55"/>
<circle cx="143.3" cy="386.4" r="1.3" fill="#fff" stroke="#333" stroke-width="0.55"/>
<circle cx="147.5" cy="385.1" r="1.3" fill="#fff" stroke="#333" stroke-width="0.55"/>
<circle cx="151.7" cy="386.4" r="1.3" fill="#fff" stroke="#333" stroke-width="0.55"/>
<circle cx="155.9" cy="384.8" r="1.3" fill="#fff" stroke="#333" stroke-width="0.55"/>
<circle cx="160.1" cy="382.0" r="1.3" fill="#fff" stroke="#333" stroke-width="0.55"/>
<circle cx="164.3" cy="378.0" r="1.3" fill="#fff" stroke="#333" stroke-width="0.55"/>
<circle cx="168.4" cy="372.6" r="1.3" fill="#fff" stroke="#333" stroke-width="0.55"/>
<circle cx="172.6" cy="371.0" r="1.3" fill="#fff" stroke="#333" stroke-width="0.55"/>
<circle cx="176.8" cy="367.0" r="1.3" fill="#fff" stroke="#333" stroke-width="0.55"/>
<circle cx="181.0" cy="364.0" r="1.3" fill="#fff" stroke="#333" stroke-width="0.55"/>
<circle cx="185.2" cy="359.8" r="1.3" fill="#fff" stroke="#333" stroke-width="0.55"/>
<circle cx="189.4" cy="355.0" r="1.3" fill="#fff" stroke="#333" stroke-width="0.55"/>
<circle cx="193.6" cy="350.0" r="1.3" fill="#fff" stroke="#333" stroke-width="0.55"/>
<circle cx="197.7" cy="344.8" r="1.3" fill="#fff" stroke="#333" stroke-width="0.55"/>
<circle cx="201.9" cy="340.0" r="1.3" fill="#fff" stroke="#333" stroke-width="0.55"/>
<circle cx="206.1" cy="335.8" r="1.3" fill="#fff" stroke="#333" stroke-width="0.55"/>
<circle cx="210.3" cy="332.6" r="1.3" fill="#fff" stroke="#333" stroke-width="0.55"/>
<circle cx="214.5" cy="329.5" r="1.3" fill="#fff" stroke="#333" stroke-width="0.55"/>
<circle cx="218.7" cy="327.0" r="1.3" fill="#fff" stroke="#333" stroke-width="0.55"/>
<circle cx="222.9" cy="325.0" r="1.3" fill="#fff" stroke="#333" stroke-width="0.55"/>
<circle cx="227.0" cy="324.3" r="1.3" fill="#fff" stroke="#333" stroke-width="0.55"/>
<circle cx="231.2" cy="319.8" r="1.3" fill="#fff" stroke="#333" stroke-width="0.55"/>
<circle cx="235.4" cy="319.1" r="1.3" fill="#fff" stroke="#333" stroke-width="0.55"/>
<circle cx="239.6" cy="319.8" r="1.3" fill="#fff" stroke="#333" stroke-width="0.55"/>
<circle cx="243.8" cy="318.5" r="1.3" fill="#fff" stroke="#333" stroke-width="0.55"/>
<circle cx="248.0" cy="316.7" r="1.3" fill="#fff" stroke="#333" stroke-width="0.55"/>
<circle cx="252.2" cy="318.4" r="1.3" fill="#fff" stroke="#333" stroke-width="0.55"/>
<circle cx="256.3" cy="315.7" r="1.3" fill="#fff" stroke="#333" stroke-width="0.55"/>
<circle cx="260.5" cy="316.4" r="1.3" fill="#fff" stroke="#333" stroke-width="0.55"/>
<circle cx="264.7" cy="316.3" r="1.3" fill="#fff" stroke="#333" stroke-width="0.55"/>
<circle cx="268.9" cy="316.3" r="1.3" fill="#fff" stroke="#333" stroke-width="0.55"/>
<circle cx="273.1" cy="316.4" r="1.3" fill="#fff" stroke="#333" stroke-width="0.55"/>
<circle cx="277.3" cy="314.1" r="1.3" fill="#fff" stroke="#333" stroke-width="0.55"/>
<circle cx="281.5" cy="315.4" r="1.3" fill="#fff" stroke="#333" stroke-width="0.55"/>
<polyline points="68.5,432.0 68.9,432.0 69.3,432.0 69.7,432.0 70.1,432.0 70.5,432.0 70.9,432.0 71.3,432.0 71.7,432.0 72.1,432.0 72.5,432.0 72.9,431.9 73.3,431.9 73.7,431.9 74.1,431.9 74.5,431.8 74.9,431.7 75.3,431.6 75.7,431.5 76.1,431.4 76.5,431.1 76.9,430.9 77.3,430.5 77.7,430.1 78.1,429.5 78.5,428.9 78.9,428.0 79.3,427.0 79.7,425.8 80.1,424.3 80.5,422.6 80.9,420.5 81.3,418.1 81.7,415.4 82.1,412.2 82.5,408.6 82.9,404.6 83.3,400.2 83.7,395.3 84.1,390.0 84.5,384.3 84.9,378.2 85.3,371.8 85.7,365.2 86.1,358.4 86.5,351.6 86.9,344.8 87.3,338.1 87.7,331.7 88.1,325.7 88.5,320.3 88.9,315.4 89.3,311.3 89.7,308.0 90.1,305.6 90.5,304.1 90.9,303.6 91.3,304.1 91.7,305.6 92.1,308.0 92.5,311.3 92.9,315.4 93.3,320.3 93.7,325.7 94.1,331.7 94.5,338.1 94.9,344.8 95.3,351.6 95.7,358.4 96.1,365.2 96.5,371.8 96.9,378.2 97.3,384.3 97.7,390.0 98.1,395.3 98.5,400.2 98.9,404.6 99.3,408.6 99.7,412.2 100.1,415.4 100.5,418.1 100.9,420.5 101.3,422.6 101.7,424.3 102.1,425.8 102.5,427.0 102.9,428.0 103.3,428.9 103.7,429.5 104.1,430.1 104.5,430.5 104.9,430.9 105.3,431.1 105.7,431.4 106.1,431.5 106.5,431.6 106.9,431.7 107.3,431.8 107.7,431.9 108.1,431.9 108.5,431.9 108.9,431.9 109.3,432.0 109.7,432.0 110.1,432.0 110.5,432.0 110.9,432.0 111.3,432.0 111.7,432.0 112.1,432.0 112.5,432.0 112.9,432.0 113.3,432.0 113.7,432.0 114.1,432.0 114.5,432.0 114.9,432.0 115.3,432.0 115.7,432.0 116.1,432.0 116.5,432.0 116.9,432.0 117.3,432.0 117.7,432.0 118.1,432.0 118.5,432.0 118.9,432.0" fill="none" stroke="#7ec4e2" stroke-width="2.3" stroke-linejoin="round" stroke-linecap="butt"/>
<polyline points="155.7,416.6 156.2,416.5 156.7,416.4 157.2,416.3 157.7,416.3 158.2,416.2 158.7,416.1 159.2,416.0 159.7,415.9 160.2,415.8 160.7,415.8 161.2,415.7 161.7,415.6 162.2,415.5 162.7,415.4 163.2,415.3 163.7,415.2 164.2,415.1 164.7,414.9 165.2,414.8 165.7,414.7 166.2,414.6 166.7,414.4 167.2,414.3 167.7,414.2 168.2,414.0 168.7,413.8 169.2,413.7 169.7,413.5 170.2,413.3 170.7,413.1 171.2,413.0 171.7,412.8 172.2,412.5 172.7,412.3 173.2,412.1 173.7,411.9 174.2,411.6 174.7,411.4 175.2,411.1 175.7,410.8 176.2,410.5 176.7,410.2 177.2,409.9 177.7,409.6 178.2,409.3 178.7,408.9 179.2,408.6 179.7,408.2 180.2,407.9 180.7,407.5 181.2,407.1 181.7,406.7 182.2,406.3 182.7,405.9 183.2,405.4 183.7,405.0 184.2,404.5 184.7,404.1 185.2,403.6 185.7,403.2 186.2,402.7 186.7,402.2 187.2,401.7 187.7,401.2 188.2,400.7 188.7,400.2 189.2,399.6 189.7,399.1 190.2,398.6 190.7,398.0 191.2,397.5 191.7,396.9 192.2,396.4 192.7,395.8 193.2,395.3 193.7,394.7 194.2,394.1 194.7,393.6 195.2,393.0 195.7,392.4 196.2,391.9 196.7,391.3 197.2,390.8 197.7,390.2 198.2,389.7 198.7,389.1 199.2,388.6 199.7,388.0 200.2,387.5 200.7,387.0 201.2,386.5 201.7,386.0 202.2,385.5 202.7,385.0 203.2,384.5 203.7,384.0 204.2,383.5 204.7,383.1 205.2,382.6 205.7,382.2 206.2,381.8 206.7,381.3 207.2,380.9 207.7,380.5 208.2,380.1 208.7,379.7 209.2,379.4 209.7,379.0 210.2,378.6 210.7,378.3 211.2,377.9 211.7,377.6 212.2,377.3 212.7,377.0 213.2,376.7 213.7,376.4 214.2,376.1 214.7,375.9 215.2,375.6 215.7,375.4 216.2,375.2 216.7,375.0 217.2,374.8 217.7,374.6 218.2,374.4 218.7,374.2 219.2,374.1 219.7,373.9 220.2,373.8 220.7,373.7 221.2,373.6 221.7,373.5 222.2,373.4 222.7,373.3 223.2,373.3 223.7,373.2 224.2,373.1 224.7,373.1 225.2,373.1 225.7,373.0 226.2,373.0 226.7,373.0 227.2,373.0 227.7,373.0 228.2,373.0 228.7,373.0 229.2,373.0 229.7,373.0 230.2,373.0 230.7,373.0 231.2,373.1 231.7,373.1 232.2,373.1 232.7,373.1 233.2,373.1 233.7,373.1 234.2,373.1 234.7,373.1 235.2,373.2 235.7,373.2 236.2,373.2 236.7,373.2 237.2,373.1 237.7,373.1 238.2,373.1 238.7,373.1 239.2,373.1 239.7,373.0 240.2,373.0 240.7,372.9" fill="none" stroke="#ff0000" stroke-width="2.4" stroke-linejoin="round" stroke-linecap="butt"/>
<polyline points="155.9,384.1 156.4,383.8 156.9,383.5 157.4,383.2 157.9,382.8 158.4,382.5 158.9,382.2 159.4,381.9 159.9,381.5 160.4,381.2 160.9,380.9 161.4,380.6 161.9,380.2 162.4,379.9 162.9,379.6 163.4,379.2 163.9,378.9 164.4,378.6 164.9,378.2 165.4,377.9 165.9,377.5 166.4,377.2 166.9,376.8 167.4,376.5 167.9,376.1 168.4,375.8 168.9,375.4 169.4,375.1 169.9,374.7 170.4,374.3 170.9,374.0 171.4,373.6 171.9,373.2 172.4,372.8 172.9,372.5 173.4,372.1 173.9,371.7 174.4,371.3 174.9,370.9 175.4,370.5 175.9,370.1 176.4,369.7 176.9,369.3 177.4,368.9 177.9,368.4 178.4,368.0 178.9,367.6 179.4,367.2 179.9,366.7 180.4,366.3 180.9,365.8 181.4,365.4 181.9,364.9 182.4,364.4 182.9,364.0 183.4,363.5 183.9,363.0 184.4,362.5 184.9,362.1 185.4,361.6 185.9,361.1 186.4,360.6 186.9,360.0 187.4,359.5 187.9,359.0 188.4,358.5 188.9,357.9 189.4,357.4 189.9,356.8 190.4,356.3 190.9,355.7 191.4,355.2 191.9,354.6 192.4,354.0 192.9,353.4 193.4,352.8 193.9,352.2 194.4,351.6 194.9,351.0 195.4,350.4 195.9,349.8 196.4,349.2 196.9,348.6 197.4,347.9 197.9,347.3 198.4,346.7 198.9,346.1 199.4,345.5 199.9,344.9 200.4,344.3 200.9,343.7 201.4,343.1 201.9,342.5 202.4,341.9 202.9,341.3 203.4,340.7 203.9,340.2 204.4,339.6 204.9,339.0 205.4,338.5 205.9,337.9 206.4,337.4 206.9,336.9 207.4,336.3 207.9,335.8 208.4,335.3 208.9,334.8 209.4,334.3 209.9,333.8 210.4,333.3 210.9,332.8 211.4,332.4 211.9,331.9 212.4,331.5 212.9,331.0 213.4,330.6 213.9,330.1 214.4,329.7 214.9,329.3 215.4,328.9 215.9,328.5 216.4,328.1 216.9,327.7 217.4,327.4 217.9,327.0 218.4,326.7 218.9,326.3 219.4,326.0 219.9,325.7 220.4,325.4 220.9,325.1 221.4,324.8 221.9,324.5 222.4,324.3 222.9,324.0 223.4,323.8 223.9,323.6 224.4,323.3 224.9,323.1 225.4,322.9 225.9,322.7 226.4,322.5 226.9,322.3 227.4,322.2 227.9,322.0 228.4,321.8 228.9,321.7 229.4,321.5 229.9,321.4 230.4,321.2 230.9,321.1 231.4,321.0 231.9,320.8 232.4,320.7 232.9,320.6 233.4,320.4 233.9,320.3 234.4,320.2 234.9,320.1 235.4,319.9 235.9,319.8 236.4,319.7 236.9,319.6 237.4,319.5 237.9,319.3 238.4,319.2 238.9,319.1 239.4,318.9 239.9,318.8 240.4,318.7" fill="none" stroke="#0000ff" stroke-width="2.4" stroke-linejoin="round" stroke-linecap="butt"/>
<text x="71.8" y="295" fill="#7dc0de" font-size="10.3" font-weight="bold" text-anchor="start">7 days</text>
<text x="192.3" y="310.8" fill="#0000ff" font-size="10.3" font-weight="bold" text-anchor="start">8.2 days</text>
<text x="191.9" y="418.1" fill="#ff0000" font-size="10.3" font-weight="bold" text-anchor="start">4.2 days</text>
<polyline points="391.3,383.5 396.2,368.1 401.2,377.5 406.1,353.9 411.1,353.6 416.0,349.0 421.0,351.4 425.9,334.1 430.9,339.9 435.8,333.8 440.8,335.2 445.7,327.6 450.7,318.7 455.6,316.4 460.6,314.6 465.6,319.9 470.5,310.3 475.5,321.9 480.4,315.8 485.4,341.6 490.3,339.4 495.3,325.2 500.2,332.4 505.2,333.8 510.1,335.6 515.1,324.1 520.0,342.7 525.0,328.1 529.9,320.1 534.9,338.9 539.8,334.5 544.8,334.8 549.8,324.4 554.7,327.7 559.7,328.4 564.6,331.9 569.6,318.0 574.5,322.0 579.5,325.9 584.4,311.0 589.4,317.4 594.3,312.1 599.3,325.5 604.2,319.9 609.2,315.1 614.1,322.3 619.1,326.9 624.0,320.9 629.0,326.1 634.0,327.7 638.9,321.6 643.9,314.8" fill="none" stroke="#000" stroke-width="1.0" stroke-linejoin="round"/>
<circle cx="391.3" cy="383.5" r="1.35" fill="#000"/>
<circle cx="396.2" cy="368.1" r="1.35" fill="#000"/>
<circle cx="401.2" cy="377.5" r="1.35" fill="#000"/>
<circle cx="406.1" cy="353.9" r="1.35" fill="#000"/>
<circle cx="411.1" cy="353.6" r="1.35" fill="#000"/>
<circle cx="416.0" cy="349.0" r="1.35" fill="#000"/>
<circle cx="421.0" cy="351.4" r="1.35" fill="#000"/>
<circle cx="425.9" cy="334.1" r="1.35" fill="#000"/>
<circle cx="430.9" cy="339.9" r="1.35" fill="#000"/>
<circle cx="435.8" cy="333.8" r="1.35" fill="#000"/>
<circle cx="440.8" cy="335.2" r="1.35" fill="#000"/>
<circle cx="445.7" cy="327.6" r="1.35" fill="#000"/>
<circle cx="450.7" cy="318.7" r="1.35" fill="#000"/>
<circle cx="455.6" cy="316.4" r="1.35" fill="#000"/>
<circle cx="460.6" cy="314.6" r="1.35" fill="#000"/>
<circle cx="465.6" cy="319.9" r="1.35" fill="#000"/>
<circle cx="470.5" cy="310.3" r="1.35" fill="#000"/>
<circle cx="475.5" cy="321.9" r="1.35" fill="#000"/>
<circle cx="480.4" cy="315.8" r="1.35" fill="#000"/>
<circle cx="485.4" cy="341.6" r="1.35" fill="#000"/>
<circle cx="490.3" cy="339.4" r="1.35" fill="#000"/>
<circle cx="495.3" cy="325.2" r="1.35" fill="#000"/>
<circle cx="500.2" cy="332.4" r="1.35" fill="#000"/>
<circle cx="505.2" cy="333.8" r="1.35" fill="#000"/>
<circle cx="510.1" cy="335.6" r="1.35" fill="#000"/>
<circle cx="515.1" cy="324.1" r="1.35" fill="#000"/>
<circle cx="520.0" cy="342.7" r="1.35" fill="#000"/>
<circle cx="525.0" cy="328.1" r="1.35" fill="#000"/>
<circle cx="529.9" cy="320.1" r="1.35" fill="#000"/>
<circle cx="534.9" cy="338.9" r="1.35" fill="#000"/>
<circle cx="539.8" cy="334.5" r="1.35" fill="#000"/>
<circle cx="544.8" cy="334.8" r="1.35" fill="#000"/>
<circle cx="549.8" cy="324.4" r="1.35" fill="#000"/>
<circle cx="554.7" cy="327.7" r="1.35" fill="#000"/>
<circle cx="559.7" cy="328.4" r="1.35" fill="#000"/>
<circle cx="564.6" cy="331.9" r="1.35" fill="#000"/>
<circle cx="569.6" cy="318.0" r="1.35" fill="#000"/>
<circle cx="574.5" cy="322.0" r="1.35" fill="#000"/>
<circle cx="579.5" cy="325.9" r="1.35" fill="#000"/>
<circle cx="584.4" cy="311.0" r="1.35" fill="#000"/>
<circle cx="589.4" cy="317.4" r="1.35" fill="#000"/>
<circle cx="594.3" cy="312.1" r="1.35" fill="#000"/>
<circle cx="599.3" cy="325.5" r="1.35" fill="#000"/>
<circle cx="604.2" cy="319.9" r="1.35" fill="#000"/>
<circle cx="609.2" cy="315.1" r="1.35" fill="#000"/>
<circle cx="614.1" cy="322.3" r="1.35" fill="#000"/>
<circle cx="619.1" cy="326.9" r="1.35" fill="#000"/>
<circle cx="624.0" cy="320.9" r="1.35" fill="#000"/>
<circle cx="629.0" cy="326.1" r="1.35" fill="#000"/>
<circle cx="634.0" cy="327.7" r="1.35" fill="#000"/>
<circle cx="638.9" cy="321.6" r="1.35" fill="#000"/>
<circle cx="643.9" cy="314.8" r="1.35" fill="#000"/>
<polyline points="391.3,384.0 396.2,375.5 401.2,366.0 406.1,357.0 411.1,348.0 416.0,340.7 421.0,332.5 425.9,327.0 430.9,322.0 435.8,318.5 440.8,316.5 445.7,314.5 450.7,313.2 455.6,312.6 460.6,312.2 465.6,312.0 470.5,311.5 475.5,309.8 480.4,312.3 485.4,314.8 490.3,313.4 495.3,313.9 500.2,312.3 505.2,314.1 510.1,313.4 515.1,315.0 520.0,312.0 525.0,315.0 529.9,313.7 534.9,315.2 539.8,313.9 544.8,312.3 549.8,313.9 554.7,310.9 559.7,312.6 564.6,311.3 569.6,307.5 574.5,312.6 579.5,310.2 584.4,310.7 589.4,310.0 594.3,310.0 599.3,308.9 604.2,306.8 609.2,311.6 614.1,308.7 619.1,310.5 624.0,311.1 629.0,306.8 634.0,311.3 638.9,307.6 643.9,308.1" fill="none" stroke="#000" stroke-width="0.9" stroke-linejoin="round"/>
<circle cx="391.3" cy="384.0" r="1.3" fill="#fff" stroke="#333" stroke-width="0.55"/>
<circle cx="396.2" cy="375.5" r="1.3" fill="#fff" stroke="#333" stroke-width="0.55"/>
<circle cx="401.2" cy="366.0" r="1.3" fill="#fff" stroke="#333" stroke-width="0.55"/>
<circle cx="406.1" cy="357.0" r="1.3" fill="#fff" stroke="#333" stroke-width="0.55"/>
<circle cx="411.1" cy="348.0" r="1.3" fill="#fff" stroke="#333" stroke-width="0.55"/>
<circle cx="416.0" cy="340.7" r="1.3" fill="#fff" stroke="#333" stroke-width="0.55"/>
<circle cx="421.0" cy="332.5" r="1.3" fill="#fff" stroke="#333" stroke-width="0.55"/>
<circle cx="425.9" cy="327.0" r="1.3" fill="#fff" stroke="#333" stroke-width="0.55"/>
<circle cx="430.9" cy="322.0" r="1.3" fill="#fff" stroke="#333" stroke-width="0.55"/>
<circle cx="435.8" cy="318.5" r="1.3" fill="#fff" stroke="#333" stroke-width="0.55"/>
<circle cx="440.8" cy="316.5" r="1.3" fill="#fff" stroke="#333" stroke-width="0.55"/>
<circle cx="445.7" cy="314.5" r="1.3" fill="#fff" stroke="#333" stroke-width="0.55"/>
<circle cx="450.7" cy="313.2" r="1.3" fill="#fff" stroke="#333" stroke-width="0.55"/>
<circle cx="455.6" cy="312.6" r="1.3" fill="#fff" stroke="#333" stroke-width="0.55"/>
<circle cx="460.6" cy="312.2" r="1.3" fill="#fff" stroke="#333" stroke-width="0.55"/>
<circle cx="465.6" cy="312.0" r="1.3" fill="#fff" stroke="#333" stroke-width="0.55"/>
<circle cx="470.5" cy="311.5" r="1.3" fill="#fff" stroke="#333" stroke-width="0.55"/>
<circle cx="475.5" cy="309.8" r="1.3" fill="#fff" stroke="#333" stroke-width="0.55"/>
<circle cx="480.4" cy="312.3" r="1.3" fill="#fff" stroke="#333" stroke-width="0.55"/>
<circle cx="485.4" cy="314.8" r="1.3" fill="#fff" stroke="#333" stroke-width="0.55"/>
<circle cx="490.3" cy="313.4" r="1.3" fill="#fff" stroke="#333" stroke-width="0.55"/>
<circle cx="495.3" cy="313.9" r="1.3" fill="#fff" stroke="#333" stroke-width="0.55"/>
<circle cx="500.2" cy="312.3" r="1.3" fill="#fff" stroke="#333" stroke-width="0.55"/>
<circle cx="505.2" cy="314.1" r="1.3" fill="#fff" stroke="#333" stroke-width="0.55"/>
<circle cx="510.1" cy="313.4" r="1.3" fill="#fff" stroke="#333" stroke-width="0.55"/>
<circle cx="515.1" cy="315.0" r="1.3" fill="#fff" stroke="#333" stroke-width="0.55"/>
<circle cx="520.0" cy="312.0" r="1.3" fill="#fff" stroke="#333" stroke-width="0.55"/>
<circle cx="525.0" cy="315.0" r="1.3" fill="#fff" stroke="#333" stroke-width="0.55"/>
<circle cx="529.9" cy="313.7" r="1.3" fill="#fff" stroke="#333" stroke-width="0.55"/>
<circle cx="534.9" cy="315.2" r="1.3" fill="#fff" stroke="#333" stroke-width="0.55"/>
<circle cx="539.8" cy="313.9" r="1.3" fill="#fff" stroke="#333" stroke-width="0.55"/>
<circle cx="544.8" cy="312.3" r="1.3" fill="#fff" stroke="#333" stroke-width="0.55"/>
<circle cx="549.8" cy="313.9" r="1.3" fill="#fff" stroke="#333" stroke-width="0.55"/>
<circle cx="554.7" cy="310.9" r="1.3" fill="#fff" stroke="#333" stroke-width="0.55"/>
<circle cx="559.7" cy="312.6" r="1.3" fill="#fff" stroke="#333" stroke-width="0.55"/>
<circle cx="564.6" cy="311.3" r="1.3" fill="#fff" stroke="#333" stroke-width="0.55"/>
<circle cx="569.6" cy="307.5" r="1.3" fill="#fff" stroke="#333" stroke-width="0.55"/>
<circle cx="574.5" cy="312.6" r="1.3" fill="#fff" stroke="#333" stroke-width="0.55"/>
<circle cx="579.5" cy="310.2" r="1.3" fill="#fff" stroke="#333" stroke-width="0.55"/>
<circle cx="584.4" cy="310.7" r="1.3" fill="#fff" stroke="#333" stroke-width="0.55"/>
<circle cx="589.4" cy="310.0" r="1.3" fill="#fff" stroke="#333" stroke-width="0.55"/>
<circle cx="594.3" cy="310.0" r="1.3" fill="#fff" stroke="#333" stroke-width="0.55"/>
<circle cx="599.3" cy="308.9" r="1.3" fill="#fff" stroke="#333" stroke-width="0.55"/>
<circle cx="604.2" cy="306.8" r="1.3" fill="#fff" stroke="#333" stroke-width="0.55"/>
<circle cx="609.2" cy="311.6" r="1.3" fill="#fff" stroke="#333" stroke-width="0.55"/>
<circle cx="614.1" cy="308.7" r="1.3" fill="#fff" stroke="#333" stroke-width="0.55"/>
<circle cx="619.1" cy="310.5" r="1.3" fill="#fff" stroke="#333" stroke-width="0.55"/>
<circle cx="624.0" cy="311.1" r="1.3" fill="#fff" stroke="#333" stroke-width="0.55"/>
<circle cx="629.0" cy="306.8" r="1.3" fill="#fff" stroke="#333" stroke-width="0.55"/>
<circle cx="634.0" cy="311.3" r="1.3" fill="#fff" stroke="#333" stroke-width="0.55"/>
<circle cx="638.9" cy="307.6" r="1.3" fill="#fff" stroke="#333" stroke-width="0.55"/>
<circle cx="643.9" cy="308.1" r="1.3" fill="#fff" stroke="#333" stroke-width="0.55"/>
<polyline points="390.3,388.0 391.1,387.1 391.8,386.3 392.6,385.4 393.3,384.4 394.1,383.5 394.9,382.5 395.6,381.6 396.4,380.6 397.2,379.5 397.9,378.5 398.7,377.5 399.4,376.4 400.2,375.4 401.0,374.3 401.7,373.2 402.5,372.1 403.3,371.0 404.0,369.8 404.8,368.7 405.5,367.6 406.3,366.4 407.1,365.3 407.8,364.1 408.6,363.0 409.4,361.9 410.1,360.7 410.9,359.6 411.6,358.4 412.4,357.3 413.2,356.1 413.9,355.0 414.7,353.9 415.5,352.8 416.2,351.7 417.0,350.6 417.7,349.5 418.5,348.4 419.3,347.4 420.0,346.3 420.8,345.3 421.5,344.3 422.3,343.3 423.1,342.3 423.8,341.4 424.6,340.4 425.4,339.5 426.1,338.6 426.9,337.7 427.6,336.9 428.4,336.0 429.2,335.2 429.9,334.4 430.7,333.6 431.5,332.9 432.2,332.2 433.0,331.4 433.7,330.8 434.5,330.1 435.3,329.4 436.0,328.8 436.8,328.2 437.6,327.6 438.3,327.1 439.1,326.6 439.8,326.0 440.6,325.5 441.4,325.1 442.1,324.6 442.9,324.2 443.7,323.8 444.4,323.4 445.2,323.0 445.9,322.6 446.7,322.3 447.5,321.9 448.2,321.6 449.0,321.3 449.8,321.1 450.5,320.8 451.3,320.5 452.0,320.3 452.8,320.1 453.6,319.9 454.3,319.7 455.1,319.5 455.8,319.3 456.6,319.1 457.4,319.0 458.1,318.8 458.9,318.7 459.7,318.5 460.4,318.4 461.2,318.3 461.9,318.2 462.7,318.1 463.5,318.0 464.2,317.9 465.0,317.8 465.8,317.8 466.5,317.7 467.3,317.6 468.0,317.6 468.8,317.5 469.6,317.5 470.3,317.4 471.1,317.4 471.9,317.3 472.6,317.3 473.4,317.3 474.1,317.2 474.9,317.2 475.7,317.2 476.4,317.2 477.2,317.1 478.0,317.1 478.7,317.1 479.5,317.1 480.2,317.1 481.0,317.1" fill="none" stroke="#ff0000" stroke-width="2.4" stroke-linejoin="round" stroke-linecap="butt"/>
<polyline points="390.9,382.8 391.7,381.9 392.4,380.9 393.2,380.0 394.0,379.0 394.7,377.9 395.5,376.8 396.2,375.8 397.0,374.6 397.8,373.5 398.5,372.3 399.3,371.1 400.1,369.9 400.8,368.6 401.6,367.4 402.3,366.1 403.1,364.8 403.9,363.5 404.6,362.2 405.4,360.9 406.2,359.5 406.9,358.2 407.7,356.8 408.4,355.5 409.2,354.1 410.0,352.8 410.7,351.4 411.5,350.1 412.3,348.7 413.0,347.4 413.8,346.1 414.6,344.8 415.3,343.5 416.1,342.3 416.8,341.0 417.6,339.8 418.4,338.6 419.1,337.4 419.9,336.2 420.7,335.1 421.4,334.0 422.2,332.9 422.9,331.8 423.7,330.8 424.5,329.8 425.2,328.9 426.0,327.9 426.8,327.0 427.5,326.2 428.3,325.3 429.1,324.5 429.8,323.7 430.6,323.0 431.3,322.3 432.1,321.6 432.9,321.0 433.6,320.3 434.4,319.7 435.2,319.2 435.9,318.6 436.7,318.1 437.4,317.7 438.2,317.2 439.0,316.8 439.7,316.4 440.5,316.0 441.3,315.7 442.0,315.3 442.8,315.0 443.5,314.7 444.3,314.5 445.1,314.2 445.8,314.0 446.6,313.7 447.4,313.5 448.1,313.4 448.9,313.2 449.7,313.0 450.4,312.9 451.2,312.7 451.9,312.6 452.7,312.5 453.5,312.4 454.2,312.3 455.0,312.2 455.8,312.1 456.5,312.0 457.3,312.0 458.0,311.9 458.8,311.9 459.6,311.8 460.3,311.8 461.1,311.7 461.9,311.7 462.6,311.6 463.4,311.6 464.2,311.6 464.9,311.6 465.7,311.5 466.4,311.5 467.2,311.5 468.0,311.5 468.7,311.5 469.5,311.5 470.3,311.5 471.0,311.4 471.8,311.4 472.5,311.4 473.3,311.4 474.1,311.4 474.8,311.4 475.6,311.4 476.4,311.4 477.1,311.4 477.9,311.4 478.6,311.4 479.4,311.4 480.2,311.4 480.9,311.4 481.7,311.4" fill="none" stroke="#0000ff" stroke-width="2.4" stroke-linejoin="round" stroke-linecap="butt"/>
<text x="426.3" y="302.3" fill="#0000ff" font-size="10.3" font-weight="bold" text-anchor="start">1.1 days</text>
<text x="425.8" y="366" fill="#ff0000" font-size="10.3" font-weight="bold" text-anchor="start">2.2 days</text>
</svg></body></html>
